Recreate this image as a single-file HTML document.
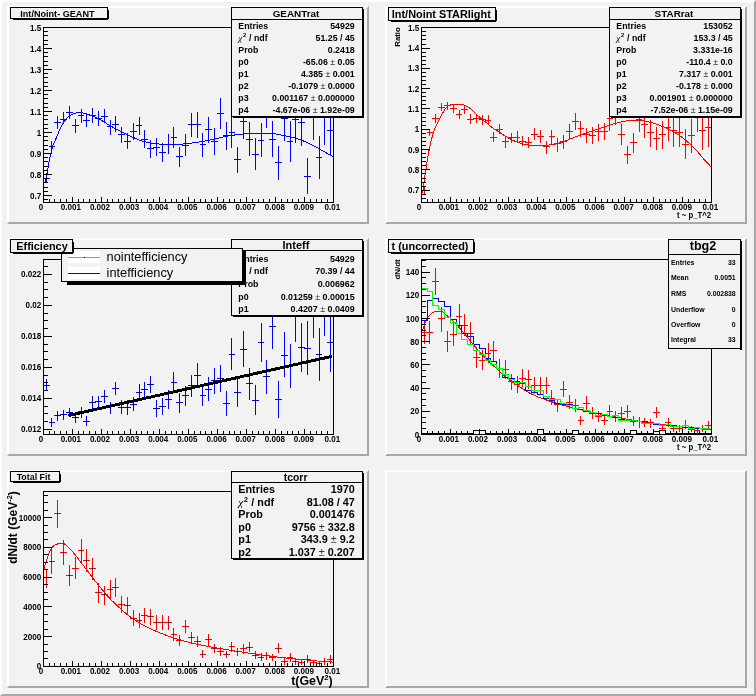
<!DOCTYPE html>
<html><head><meta charset="utf-8"><title>canvas</title>
<style>html,body{margin:0;padding:0;background:#f2f2f2;}svg{display:block;will-change:transform;font-family:"Liberation Sans",sans-serif;}</style>
</head><body>
<svg width="756" height="696" viewBox="0 0 756 696">
<rect x="0.00" y="0.00" width="756.00" height="696.00" fill="#f2f2f2" stroke="none" stroke-width="1" shape-rendering="crispEdges"/>
<polygon points="0,0 756,0 754,2 2,2 2,694 0,696" fill="#fff"/>
<polygon points="756,696 0,696 2,694 754,694 754,2 756,0" fill="#a8a8a8"/>
<rect x="7.00" y="6.00" width="362.00" height="218.00" fill="#f2f2f2" stroke="none" stroke-width="1" shape-rendering="crispEdges"/>
<polygon points="7,6 369,6 367,8 9,8 9,222 7,224" fill="#fff"/>
<polygon points="369,224 7,224 9,222 367,222 367,8 369,6" fill="#a8a8a8"/>
<rect x="385.00" y="6.00" width="362.00" height="218.00" fill="#f2f2f2" stroke="none" stroke-width="1" shape-rendering="crispEdges"/>
<polygon points="385,6 747,6 745,8 387,8 387,222 385,224" fill="#fff"/>
<polygon points="747,224 385,224 387,222 745,222 745,8 747,6" fill="#a8a8a8"/>
<rect x="7.00" y="238.00" width="362.00" height="218.00" fill="#f2f2f2" stroke="none" stroke-width="1" shape-rendering="crispEdges"/>
<polygon points="7,238 369,238 367,240 9,240 9,454 7,456" fill="#fff"/>
<polygon points="369,456 7,456 9,454 367,454 367,240 369,238" fill="#a8a8a8"/>
<rect x="385.00" y="238.00" width="362.00" height="218.00" fill="#f2f2f2" stroke="none" stroke-width="1" shape-rendering="crispEdges"/>
<polygon points="385,238 747,238 745,240 387,240 387,454 385,456" fill="#fff"/>
<polygon points="747,456 385,456 387,454 745,454 745,240 747,238" fill="#a8a8a8"/>
<rect x="7.00" y="470.00" width="362.00" height="218.00" fill="#f2f2f2" stroke="none" stroke-width="1" shape-rendering="crispEdges"/>
<polygon points="7,470 369,470 367,472 9,472 9,686 7,688" fill="#fff"/>
<polygon points="369,688 7,688 9,686 367,686 367,472 369,470" fill="#a8a8a8"/>
<rect x="385.00" y="470.00" width="362.00" height="218.00" fill="#f2f2f2" stroke="none" stroke-width="1" shape-rendering="crispEdges"/>
<polygon points="385,470 747,470 745,472 387,472 387,686 385,688" fill="#fff"/>
<polygon points="747,688 385,688 387,686 745,686 745,472 747,470" fill="#a8a8a8"/>
<g>
<path d="M46.5 173V183M43 178.5H50M51.5 141V152M49 146.5H55M57.5 116V129M54 122.5H61M63.5 112V124M60 119.5H67M69.5 106V119M66 112.5H73M75.5 119V133M72 125.5H79M81.5 109V123M78 115.5H84M86.5 114V127M83 120.5H90M92.5 108V123M89 115.5H96M98.5 111V126M95 118.5H102M104.5 109V123M101 116.5H108M110.5 120V135M107 126.5H113M115.5 116V132M112 124.5H119M121.5 127V143M118 134.5H125M127.5 133V149M124 141.5H131M133.5 123V140M130 131.5H137M139.5 117V135M136 125.5H142M144.5 130V148M141 139.5H148M150.5 140V158M147 148.5H154M156.5 138V156M153 147.5H160M162.5 143V162M159 152.5H166M168.5 134V154M165 144.5H172M173.5 127V148M171 137.5H177M179.5 147V167M176 156.5H183M185.5 134V156M182 145.5H189M191.5 113V137M188 124.5H195M197.5 112V138M194 124.5H201M202.5 133V157M200 144.5H206M208.5 117V143M205 129.5H212M214.5 128V155M211 141.5H218M220.5 98V129M217 113.5H224M226.5 122V150M223 135.5H230M231.5 117V148M229 132.5H235M237.5 147V173M234 159.5H241M243.5 104V139M240 121.5H247M249.5 122V156M246 139.5H253M255.5 138V170M252 154.5H259M261.5 123V157M258 140.5H264M266.5 90V128M263 109.5H270M272.5 121V157M269 139.5H276M278.5 146V180M275 162.5H282M284.5 96V141M281 118.5H288M290.5 121V162M287 141.5H293M295.5 96V143M292 119.5H299M301.5 99V146M298 122.5H305M307.5 158V194M304 176.5H311M313.5 85V140M310 112.5H317M319.5 136V179M316 157.5H322M324.5 85V145M321 115.5H328M330.5 106V156M327 130.5H334" stroke="#0000ff" stroke-width="1" fill="none" shape-rendering="crispEdges"/>
<polyline points="44.6,183.5 44.7,183.2 44.7,182.9 44.8,182.5 44.9,182.0 45.1,181.5 45.2,181.0 45.4,180.5 45.5,180.2 45.7,179.8 46.0,179.2 46.2,178.3 46.5,177.0 46.8,175.1 47.2,172.7 47.7,170.0 48.1,167.2 48.5,164.5 49.0,162.0 49.5,159.7 50.0,157.4 50.5,155.2 51.0,153.1 51.5,151.2 51.9,149.6 52.2,148.3 52.4,147.3 52.6,146.5 52.8,145.9 53.0,145.2 53.3,144.4 53.6,143.6 54.0,142.8 54.4,142.0 54.8,141.1 55.2,140.2 55.7,139.2 56.2,138.1 56.7,136.8 57.2,135.5 57.8,134.2 58.3,132.8 58.9,131.5 59.5,130.2 60.2,128.8 60.9,127.4 61.5,126.1 62.2,124.9 62.8,123.8 63.4,122.9 63.9,122.0 64.4,121.3 64.9,120.7 65.5,120.0 66.0,119.4 66.6,118.8 67.1,118.2 67.6,117.6 68.2,117.1 68.8,116.6 69.5,116.1 70.2,115.6 71.0,115.2 71.8,114.7 72.7,114.3 73.5,113.9 74.3,113.6 75.1,113.3 75.8,113.1 76.6,112.9 77.4,112.7 78.1,112.6 78.8,112.5 79.5,112.5 80.1,112.5 80.7,112.5 81.3,112.6 82.0,112.8 82.7,112.9 83.5,113.1 84.3,113.2 85.2,113.5 86.0,113.7 86.9,113.9 87.8,114.2 88.7,114.5 89.5,114.8 90.4,115.1 91.2,115.5 92.1,115.8 93.0,116.2 93.9,116.6 94.8,117.0 95.7,117.4 96.6,117.8 97.5,118.3 98.5,118.8 99.5,119.3 100.5,119.9 101.6,120.5 102.7,121.2 103.7,121.8 104.7,122.4 105.7,123.0 106.6,123.6 107.6,124.2 108.5,124.8 109.4,125.3 110.3,125.9 111.2,126.4 112.1,127.0 112.9,127.5 113.8,128.0 114.7,128.5 115.6,129.0 116.5,129.5 117.5,129.9 118.5,130.4 119.4,130.8 120.4,131.2 121.4,131.7 122.4,132.2 123.4,132.7 124.4,133.2 125.4,133.7 126.4,134.2 127.4,134.7 128.4,135.2 129.4,135.7 130.4,136.2 131.4,136.7 132.4,137.1 133.4,137.6 134.4,138.0 135.4,138.5 136.4,138.9 137.4,139.3 138.4,139.7 139.3,140.0 140.2,140.3 141.0,140.6 141.8,140.9 142.7,141.1 143.5,141.3 144.4,141.6 145.3,141.9 146.3,142.1 147.3,142.4 148.3,142.7 149.3,142.9 150.3,143.1 151.3,143.3 152.3,143.4 153.3,143.5 154.3,143.6 155.3,143.7 156.3,143.8 157.3,143.9 158.3,143.9 159.3,144.0 160.3,144.0 161.3,144.1 162.3,144.1 163.3,144.1 164.4,144.2 165.4,144.2 166.4,144.2 167.4,144.3 168.4,144.3 169.3,144.3 170.1,144.3 171.0,144.4 171.8,144.4 172.6,144.4 173.5,144.4 174.4,144.4 175.4,144.4 176.4,144.4 177.4,144.4 178.4,144.3 179.4,144.3 180.4,144.2 181.4,144.2 182.5,144.1 183.5,144.0 184.5,143.9 185.5,143.8 186.5,143.7 187.4,143.6 188.4,143.5 189.4,143.4 190.3,143.2 191.3,143.1 192.3,143.0 193.4,142.8 194.4,142.7 195.4,142.5 196.4,142.3 197.4,142.2 198.3,142.1 199.1,142.0 199.9,141.9 200.6,141.8 201.4,141.6 202.3,141.5 203.2,141.3 204.2,141.2 205.3,141.0 206.3,140.8 207.4,140.6 208.4,140.4 209.4,140.2 210.4,140.0 211.4,139.8 212.4,139.6 213.4,139.3 214.4,139.1 215.4,138.9 216.4,138.6 217.4,138.3 218.4,138.1 219.4,137.8 220.4,137.6 221.4,137.4 222.4,137.1 223.4,136.9 224.5,136.7 225.4,136.5 226.4,136.3 227.3,136.1 228.2,136.0 229.0,135.8 229.8,135.7 230.7,135.5 231.6,135.4 232.5,135.3 233.5,135.2 234.5,135.0 235.5,134.9 236.5,134.8 237.5,134.7 238.5,134.6 239.4,134.5 240.4,134.3 241.4,134.2 242.3,134.1 243.3,134.0 244.3,133.9 245.3,133.8 246.3,133.7 247.3,133.6 248.3,133.6 249.3,133.5 250.3,133.4 251.2,133.4 252.1,133.4 253.1,133.3 254.0,133.3 255.0,133.3 256.0,133.3 257.1,133.3 258.2,133.3 259.3,133.3 260.4,133.3 261.4,133.3 262.4,133.3 263.3,133.3 264.3,133.3 265.2,133.4 266.1,133.4 267.0,133.4 267.9,133.4 268.8,133.4 269.7,133.5 270.6,133.5 271.5,133.5 272.4,133.6 273.4,133.7 274.4,133.8 275.4,133.9 276.4,134.1 277.4,134.2 278.4,134.4 279.4,134.6 280.4,134.8 281.3,135.0 282.3,135.2 283.3,135.4 284.3,135.6 285.3,135.8 286.4,136.1 287.4,136.3 288.4,136.5 289.4,136.8 290.4,137.0 291.3,137.2 292.2,137.4 293.0,137.6 293.9,137.8 294.7,138.0 295.6,138.3 296.5,138.6 297.5,138.9 298.5,139.2 299.4,139.5 300.4,139.8 301.4,140.2 302.4,140.6 303.4,141.0 304.4,141.4 305.4,141.9 306.4,142.3 307.4,142.8 308.4,143.3 309.4,143.7 310.4,144.2 311.4,144.7 312.4,145.2 313.4,145.7 314.4,146.2 315.4,146.7 316.3,147.2 317.3,147.8 318.2,148.3 319.2,148.8 320.1,149.3 321.1,149.9 322.0,150.4 322.9,150.9 323.9,151.5 324.8,152.0 325.8,152.5 326.7,153.1 327.7,153.7 328.7,154.2 329.5,154.7 330.3,155.1 330.9,155.5 331.5,155.8 332.0,156.0 332.4,156.3 332.7,156.5 333.0,156.6" fill="none" stroke="#0000ff" stroke-width="1" stroke-linejoin="round" shape-rendering="crispEdges"/>
<rect x="43.50" y="27.50" width="290.00" height="175.00" fill="none" stroke="#000" stroke-width="1" shape-rendering="crispEdges"/>
<path d="M43.5 202.5V197M49.5 202.5V199M54.5 202.5V199M60.5 202.5V199M66.5 202.5V199M72.5 202.5V197M78.5 202.5V199M83.5 202.5V199M89.5 202.5V199M95.5 202.5V199M101.5 202.5V197M107.5 202.5V199M112.5 202.5V199M118.5 202.5V199M124.5 202.5V199M130.5 202.5V197M136.5 202.5V199M141.5 202.5V199M147.5 202.5V199M153.5 202.5V199M159.5 202.5V197M165.5 202.5V199M171.5 202.5V199M176.5 202.5V199M182.5 202.5V199M188.5 202.5V197M194.5 202.5V199M200.5 202.5V199M205.5 202.5V199M211.5 202.5V199M217.5 202.5V197M223.5 202.5V199M229.5 202.5V199M234.5 202.5V199M240.5 202.5V199M246.5 202.5V197M252.5 202.5V199M258.5 202.5V199M263.5 202.5V199M269.5 202.5V199M275.5 202.5V197M281.5 202.5V199M287.5 202.5V199M292.5 202.5V199M298.5 202.5V199M304.5 202.5V197M310.5 202.5V199M316.5 202.5V199M321.5 202.5V199M327.5 202.5V199M333.5 202.5V197" stroke="#000" stroke-width="1" fill="none" shape-rendering="crispEdges"/>
<text transform="translate(40.89,210.00) scale(0.94,1)" font-size="8.6" text-anchor="middle" font-weight="bold" fill="#000">0</text>
<text transform="translate(70.83,210.00) scale(0.94,1)" font-size="8.6" text-anchor="middle" font-weight="bold" fill="#000">0.001</text>
<text transform="translate(99.97,210.00) scale(0.94,1)" font-size="8.6" text-anchor="middle" font-weight="bold" fill="#000">0.002</text>
<text transform="translate(129.11,210.00) scale(0.94,1)" font-size="8.6" text-anchor="middle" font-weight="bold" fill="#000">0.003</text>
<text transform="translate(158.25,210.00) scale(0.94,1)" font-size="8.6" text-anchor="middle" font-weight="bold" fill="#000">0.004</text>
<text transform="translate(187.39,210.00) scale(0.94,1)" font-size="8.6" text-anchor="middle" font-weight="bold" fill="#000">0.005</text>
<text transform="translate(216.53,210.00) scale(0.94,1)" font-size="8.6" text-anchor="middle" font-weight="bold" fill="#000">0.006</text>
<text transform="translate(245.67,210.00) scale(0.94,1)" font-size="8.6" text-anchor="middle" font-weight="bold" fill="#000">0.007</text>
<text transform="translate(274.81,210.00) scale(0.94,1)" font-size="8.6" text-anchor="middle" font-weight="bold" fill="#000">0.008</text>
<text transform="translate(303.95,210.00) scale(0.94,1)" font-size="8.6" text-anchor="middle" font-weight="bold" fill="#000">0.009</text>
<text transform="translate(332.29,210.00) scale(0.94,1)" font-size="8.6" text-anchor="middle" font-weight="bold" fill="#000">0.01</text>
<path d="M43.5 27.5H51.5M43.5 48.5H51.5M43.5 69.5H51.5M43.5 90.5H51.5M43.5 111.5H51.5M43.5 132.5H51.5M43.5 153.5H51.5M43.5 174.5H51.5M43.5 195.5H51.5M43.5 199.5H47.5M43.5 191.5H47.5M43.5 187.5H47.5M43.5 182.5H47.5M43.5 178.5H47.5M43.5 170.5H47.5M43.5 166.5H47.5M43.5 161.5H47.5M43.5 157.5H47.5M43.5 149.5H47.5M43.5 145.5H47.5M43.5 140.5H47.5M43.5 136.5H47.5M43.5 128.5H47.5M43.5 124.5H47.5M43.5 119.5H47.5M43.5 115.5H47.5M43.5 107.5H47.5M43.5 103.5H47.5M43.5 98.5H47.5M43.5 94.5H47.5M43.5 86.5H47.5M43.5 82.5H47.5M43.5 77.5H47.5M43.5 73.5H47.5M43.5 65.5H47.5M43.5 61.5H47.5M43.5 56.5H47.5M43.5 52.5H47.5M43.5 44.5H47.5M43.5 40.5H47.5M43.5 35.5H47.5M43.5 31.5H47.5" stroke="#000" stroke-width="1" fill="none" shape-rendering="crispEdges"/>
<text transform="translate(41.20,30.50) scale(0.94,1)" font-size="8.6" text-anchor="end" font-weight="bold" fill="#000">1.5</text>
<text transform="translate(41.20,51.50) scale(0.94,1)" font-size="8.6" text-anchor="end" font-weight="bold" fill="#000">1.4</text>
<text transform="translate(41.20,72.50) scale(0.94,1)" font-size="8.6" text-anchor="end" font-weight="bold" fill="#000">1.3</text>
<text transform="translate(41.20,93.50) scale(0.94,1)" font-size="8.6" text-anchor="end" font-weight="bold" fill="#000">1.2</text>
<text transform="translate(41.20,114.50) scale(0.94,1)" font-size="8.6" text-anchor="end" font-weight="bold" fill="#000">1.1</text>
<text transform="translate(41.20,135.50) scale(0.94,1)" font-size="8.6" text-anchor="end" font-weight="bold" fill="#000">1</text>
<text transform="translate(41.20,156.50) scale(0.94,1)" font-size="8.6" text-anchor="end" font-weight="bold" fill="#000">0.9</text>
<text transform="translate(41.20,177.50) scale(0.94,1)" font-size="8.6" text-anchor="end" font-weight="bold" fill="#000">0.8</text>
<text transform="translate(41.20,198.50) scale(0.94,1)" font-size="8.6" text-anchor="end" font-weight="bold" fill="#000">0.7</text>
<rect x="13.00" y="18.00" width="95.00" height="1.50" fill="#000" stroke="none" stroke-width="1" shape-rendering="crispEdges"/>
<rect x="107.00" y="10.00" width="1.50" height="9.00" fill="#000" stroke="none" stroke-width="1" shape-rendering="crispEdges"/>
<rect x="10.50" y="7.50" width="97.00" height="11.00" fill="#f2f2f2" stroke="#000" stroke-width="1" shape-rendering="crispEdges"/>
<text x="57.40" y="16.90" font-size="9.1" text-anchor="middle" font-weight="bold" fill="#000">Int/Noint- GEANT</text>
<rect x="233.00" y="116.00" width="131.00" height="1.50" fill="#000" stroke="none" stroke-width="1" shape-rendering="crispEdges"/>
<rect x="362.00" y="9.00" width="1.50" height="109.00" fill="#000" stroke="none" stroke-width="1" shape-rendering="crispEdges"/>
<rect x="231.50" y="7.50" width="131.00" height="109.00" fill="#f2f2f2" stroke="#000" stroke-width="1" shape-rendering="crispEdges"/>
<path d="M231 19.5H362" stroke="#000" stroke-width="1" fill="none" shape-rendering="crispEdges"/>
<text x="296.00" y="16.70" font-size="9.9" text-anchor="middle" font-weight="bold" fill="#000">GEANTrat</text>
<text x="238.30" y="28.80" font-size="8.8" text-anchor="start" font-weight="bold" fill="#000">Entries</text>
<text x="354.70" y="28.80" font-size="8.8" text-anchor="end" font-weight="bold" fill="#000">54929</text>
<text x="238.30" y="40.70" font-size="8.8" text-anchor="start" font-weight="bold" fill="#000"><tspan font-family="Liberation Serif,serif" font-style="italic" font-weight="normal" font-size="105%">χ</tspan><tspan font-size="65%" dy="-3.4" dx="0.6">2</tspan><tspan dy="3.4" dx="0.5"> / ndf</tspan></text>
<text x="354.70" y="40.70" font-size="8.8" text-anchor="end" font-weight="bold" fill="#000">51.25 / 45</text>
<text x="238.30" y="52.60" font-size="8.8" text-anchor="start" font-weight="bold" fill="#000">Prob</text>
<text x="354.70" y="52.60" font-size="8.8" text-anchor="end" font-weight="bold" fill="#000">0.2418</text>
<text x="238.30" y="64.60" font-size="8.8" text-anchor="start" font-weight="bold" fill="#000">p0</text>
<text x="354.70" y="64.60" font-size="8.8" text-anchor="end" font-weight="bold" fill="#000">-65.06<tspan font-weight="normal" fill="#333"> ± </tspan>0.05</text>
<text x="238.30" y="76.70" font-size="8.8" text-anchor="start" font-weight="bold" fill="#000">p1</text>
<text x="354.70" y="76.70" font-size="8.8" text-anchor="end" font-weight="bold" fill="#000">4.385<tspan font-weight="normal" fill="#333"> ± </tspan>0.001</text>
<text x="238.30" y="88.70" font-size="8.8" text-anchor="start" font-weight="bold" fill="#000">p2</text>
<text x="354.70" y="88.70" font-size="8.8" text-anchor="end" font-weight="bold" fill="#000">-0.1079<tspan font-weight="normal" fill="#333"> ± </tspan>0.0000</text>
<text x="238.30" y="100.70" font-size="8.8" text-anchor="start" font-weight="bold" fill="#000">p3</text>
<text x="354.70" y="100.70" font-size="8.8" text-anchor="end" font-weight="bold" fill="#000">0.001167<tspan font-weight="normal" fill="#333"> ± </tspan>0.000000</text>
<text x="238.30" y="113.30" font-size="8.8" text-anchor="start" font-weight="bold" fill="#000">p4</text>
<text x="354.70" y="113.30" font-size="8.8" text-anchor="end" font-weight="bold" fill="#000">-4.67e-06<tspan font-weight="normal" fill="#333"> ± </tspan>1.92e-09</text>
</g>
<g>
<path d="M424.5 186V195M421 190.5H428M429.5 129V136M427 132.5H433M435.5 114V123M432 118.5H439M441.5 103V111M438 107.5H445M447.5 102V110M444 105.5H451M453.5 104V113M450 108.5H457M459.5 110V119M456 114.5H462M464.5 105V114M461 109.5H468M470.5 114V124M467 119.5H474M476.5 114V123M473 118.5H480M482.5 115V125M479 119.5H486M488.5 115V125M485 120.5H491M493.5 132V142M490 137.5H497M499.5 124V134M496 129.5H503M505.5 136V148M502 141.5H509M511.5 133V143M508 137.5H515M517.5 131V143M514 137.5H520M522.5 136V146M519 141.5H526M528.5 137V148M525 142.5H532M534.5 128V140M531 134.5H538M540.5 130V143M537 136.5H544M546.5 141V154M543 146.5H550M551.5 130V144M549 136.5H555M557.5 138V152M554 143.5H561M563.5 135V149M560 141.5H567M569.5 124V140M566 131.5H573M575.5 113V130M572 121.5H579M580.5 121V137M578 128.5H584M586.5 128V143M583 134.5H590M592.5 127V144M589 135.5H596M598.5 124V141M595 131.5H602M604.5 123V140M601 131.5H608M609.5 107V131M607 118.5H613M615.5 101V125M612 113.5H619M621.5 124V145M618 134.5H625M627.5 146V164M624 154.5H631M633.5 133V153M630 142.5H637M639.5 107V132M636 119.5H642M644.5 113V138M641 124.5H648M650.5 120V147M647 132.5H654M656.5 127V150M653 138.5H660M662.5 121V149M659 134.5H666M668.5 114V141M665 127.5H671M673.5 116V147M670 130.5H677M679.5 118V147M676 132.5H683M685.5 129V159M682 144.5H689M691.5 119V153M688 135.5H695M697.5 98V132M694 115.5H700M702.5 111V150M699 130.5H706M708.5 110V147M705 127.5H712" stroke="#ff0000" stroke-width="1" fill="none" shape-rendering="crispEdges"/>
<polyline points="422.7,192.9 422.9,191.6 423.1,189.8 423.4,187.6 423.6,185.2 424.0,182.7 424.3,180.3 424.7,177.9 425.0,175.3 425.4,172.6 425.8,169.9 426.3,167.2 426.7,164.5 427.1,161.8 427.6,159.1 428.0,156.4 428.5,153.7 428.9,151.1 429.4,148.7 429.9,146.5 430.3,144.4 430.8,142.4 431.2,140.5 431.7,138.6 432.2,136.8 432.7,135.0 433.2,133.3 433.8,131.6 434.3,130.1 434.9,128.6 435.4,127.2 435.9,125.9 436.5,124.8 437.1,123.7 437.6,122.7 438.1,121.8 438.5,121.0 438.8,120.4 439.1,119.9 439.3,119.5 439.5,119.2 439.7,118.8 440.0,118.3 440.3,117.7 440.6,117.1 441.0,116.4 441.3,115.7 441.7,115.0 442.0,114.4 442.3,113.8 442.7,113.2 443.0,112.6 443.3,112.0 443.6,111.5 444.0,110.9 444.4,110.3 444.7,109.8 445.1,109.2 445.5,108.7 445.9,108.2 446.3,107.7 446.7,107.3 447.0,106.9 447.4,106.6 447.8,106.3 448.1,106.1 448.5,105.8 448.9,105.6 449.2,105.3 449.5,105.2 449.9,105.0 450.2,104.8 450.6,104.7 451.0,104.6 451.3,104.5 451.7,104.4 452.1,104.4 452.5,104.3 453.0,104.3 453.6,104.3 454.2,104.2 454.9,104.2 455.6,104.2 456.3,104.2 457.0,104.2 457.7,104.2 458.5,104.2 459.3,104.2 460.1,104.3 460.9,104.4 461.7,104.5 462.5,104.7 463.3,104.9 464.1,105.1 464.9,105.4 465.7,105.7 466.5,106.1 467.3,106.6 468.2,107.1 469.1,107.7 469.9,108.4 470.8,109.1 471.7,109.8 472.6,110.6 473.5,111.4 474.4,112.3 475.3,113.2 476.2,114.0 477.0,114.8 477.7,115.5 478.4,116.1 479.0,116.6 479.7,117.2 480.4,117.8 481.2,118.5 482.1,119.3 483.2,120.1 484.2,121.0 485.4,121.9 486.5,122.8 487.5,123.6 488.5,124.4 489.5,125.3 490.4,126.1 491.4,126.9 492.3,127.7 493.3,128.4 494.3,129.1 495.3,129.7 496.3,130.4 497.4,131.0 498.4,131.6 499.4,132.2 500.4,132.9 501.4,133.5 502.4,134.2 503.5,134.9 504.5,135.6 505.5,136.2 506.5,136.8 507.6,137.4 508.6,138.0 509.7,138.6 510.7,139.2 511.7,139.7 512.7,140.2 513.7,140.6 514.7,141.1 515.7,141.5 516.7,141.8 517.6,142.2 518.4,142.5 519.2,142.8 520.0,143.1 520.7,143.3 521.5,143.6 522.4,143.8 523.3,144.0 524.3,144.3 525.4,144.5 526.4,144.7 527.5,144.8 528.5,145.0 529.5,145.1 530.5,145.2 531.5,145.3 532.5,145.4 533.5,145.4 534.5,145.5 535.5,145.5 536.5,145.6 537.6,145.6 538.6,145.6 539.6,145.6 540.6,145.6 541.6,145.6 542.5,145.5 543.5,145.5 544.4,145.4 545.4,145.4 546.3,145.3 547.2,145.2 548.1,145.1 549.0,145.1 549.9,144.9 550.8,144.8 551.7,144.7 552.6,144.6 553.6,144.4 554.6,144.2 555.5,144.1 556.5,143.8 557.5,143.6 558.5,143.3 559.5,143.0 560.5,142.7 561.6,142.3 562.6,142.0 563.6,141.6 564.6,141.2 565.6,140.9 566.6,140.5 567.6,140.1 568.6,139.7 569.6,139.3 570.6,138.9 571.6,138.5 572.6,138.1 573.6,137.7 574.6,137.3 575.5,136.9 576.4,136.5 577.2,136.2 578.0,135.9 578.8,135.6 579.6,135.2 580.5,134.9 581.5,134.6 582.5,134.2 583.5,133.9 584.5,133.6 585.6,133.2 586.6,132.9 587.6,132.6 588.6,132.2 589.6,131.9 590.6,131.6 591.6,131.2 592.6,130.9 593.6,130.6 594.5,130.2 595.4,129.9 596.4,129.6 597.3,129.2 598.3,128.9 599.3,128.6 600.3,128.3 601.3,127.9 602.3,127.6 603.3,127.3 604.3,127.0 605.2,126.7 606.1,126.4 606.9,126.1 607.8,125.8 608.6,125.5 609.5,125.2 610.4,124.9 611.4,124.6 612.3,124.3 613.3,124.0 614.3,123.7 615.3,123.4 616.3,123.1 617.4,122.9 618.4,122.6 619.5,122.4 620.6,122.1 621.6,121.9 622.6,121.7 623.6,121.5 624.5,121.3 625.5,121.1 626.4,120.9 627.4,120.8 628.4,120.7 629.4,120.6 630.4,120.5 631.3,120.5 632.3,120.4 633.3,120.4 634.3,120.4 635.2,120.3 636.1,120.3 637.1,120.3 638.0,120.4 639.0,120.4 640.0,120.5 641.0,120.6 641.9,120.7 642.9,120.8 643.9,120.9 644.9,121.1 645.9,121.3 646.8,121.4 647.8,121.6 648.7,121.8 649.7,122.1 650.6,122.3 651.5,122.6 652.5,122.8 653.4,123.1 654.4,123.4 655.3,123.8 656.3,124.1 657.3,124.5 658.3,124.8 659.2,125.2 660.2,125.6 661.2,126.0 662.2,126.4 663.2,126.8 664.1,127.2 665.1,127.6 666.1,128.0 667.0,128.5 668.0,128.9 669.0,129.4 669.9,129.8 670.9,130.3 671.9,130.8 672.8,131.4 673.8,131.9 674.8,132.5 675.7,133.1 676.7,133.7 677.7,134.3 678.6,134.9 679.6,135.6 680.6,136.3 681.5,137.0 682.5,137.8 683.5,138.5 684.4,139.3 685.4,140.1 686.4,140.9 687.3,141.8 688.3,142.6 689.3,143.5 690.2,144.4 691.2,145.3 692.2,146.2 693.2,147.2 694.2,148.2 695.1,149.2 696.1,150.3 697.1,151.3 698.1,152.4 699.0,153.5 700.0,154.6 700.9,155.8 701.9,156.9 702.8,158.0 703.8,159.1 704.8,160.2 705.9,161.3 706.9,162.4 707.7,163.3 708.5,164.1 709.1,164.8 709.6,165.3 710.0,165.7 710.3,166.1 710.6,166.4 710.8,166.6" fill="none" stroke="#ff0000" stroke-width="1" stroke-linejoin="round" shape-rendering="crispEdges"/>
<rect x="421.50" y="27.50" width="290.00" height="175.00" fill="none" stroke="#000" stroke-width="1" shape-rendering="crispEdges"/>
<path d="M421.5 202.5V197M427.5 202.5V199M432.5 202.5V199M438.5 202.5V199M444.5 202.5V199M450.5 202.5V197M456.5 202.5V199M461.5 202.5V199M467.5 202.5V199M473.5 202.5V199M479.5 202.5V197M485.5 202.5V199M490.5 202.5V199M496.5 202.5V199M502.5 202.5V199M508.5 202.5V197M514.5 202.5V199M519.5 202.5V199M525.5 202.5V199M531.5 202.5V199M537.5 202.5V197M543.5 202.5V199M549.5 202.5V199M554.5 202.5V199M560.5 202.5V199M566.5 202.5V197M572.5 202.5V199M578.5 202.5V199M583.5 202.5V199M589.5 202.5V199M595.5 202.5V197M601.5 202.5V199M607.5 202.5V199M612.5 202.5V199M618.5 202.5V199M624.5 202.5V197M630.5 202.5V199M636.5 202.5V199M641.5 202.5V199M647.5 202.5V199M653.5 202.5V197M659.5 202.5V199M665.5 202.5V199M670.5 202.5V199M676.5 202.5V199M682.5 202.5V197M688.5 202.5V199M694.5 202.5V199M699.5 202.5V199M705.5 202.5V199M711.5 202.5V197" stroke="#000" stroke-width="1" fill="none" shape-rendering="crispEdges"/>
<text transform="translate(418.89,210.00) scale(0.94,1)" font-size="8.6" text-anchor="middle" font-weight="bold" fill="#000">0</text>
<text transform="translate(448.83,210.00) scale(0.94,1)" font-size="8.6" text-anchor="middle" font-weight="bold" fill="#000">0.001</text>
<text transform="translate(477.97,210.00) scale(0.94,1)" font-size="8.6" text-anchor="middle" font-weight="bold" fill="#000">0.002</text>
<text transform="translate(507.11,210.00) scale(0.94,1)" font-size="8.6" text-anchor="middle" font-weight="bold" fill="#000">0.003</text>
<text transform="translate(536.25,210.00) scale(0.94,1)" font-size="8.6" text-anchor="middle" font-weight="bold" fill="#000">0.004</text>
<text transform="translate(565.39,210.00) scale(0.94,1)" font-size="8.6" text-anchor="middle" font-weight="bold" fill="#000">0.005</text>
<text transform="translate(594.53,210.00) scale(0.94,1)" font-size="8.6" text-anchor="middle" font-weight="bold" fill="#000">0.006</text>
<text transform="translate(623.67,210.00) scale(0.94,1)" font-size="8.6" text-anchor="middle" font-weight="bold" fill="#000">0.007</text>
<text transform="translate(652.81,210.00) scale(0.94,1)" font-size="8.6" text-anchor="middle" font-weight="bold" fill="#000">0.008</text>
<text transform="translate(681.95,210.00) scale(0.94,1)" font-size="8.6" text-anchor="middle" font-weight="bold" fill="#000">0.009</text>
<text transform="translate(710.29,210.00) scale(0.94,1)" font-size="8.6" text-anchor="middle" font-weight="bold" fill="#000">0.01</text>
<path d="M421.5 27.5H429.5M421.5 48.5H429.5M421.5 68.5H429.5M421.5 88.5H429.5M421.5 108.5H429.5M421.5 129.5H429.5M421.5 149.5H429.5M421.5 169.5H429.5M421.5 190.5H429.5M421.5 202.5H425.5M421.5 198.5H425.5M421.5 194.5H425.5M421.5 186.5H425.5M421.5 182.5H425.5M421.5 178.5H425.5M421.5 173.5H425.5M421.5 165.5H425.5M421.5 161.5H425.5M421.5 157.5H425.5M421.5 153.5H425.5M421.5 145.5H425.5M421.5 141.5H425.5M421.5 137.5H425.5M421.5 133.5H425.5M421.5 125.5H425.5M421.5 121.5H425.5M421.5 117.5H425.5M421.5 113.5H425.5M421.5 104.5H425.5M421.5 100.5H425.5M421.5 96.5H425.5M421.5 92.5H425.5M421.5 84.5H425.5M421.5 80.5H425.5M421.5 76.5H425.5M421.5 72.5H425.5M421.5 64.5H425.5M421.5 60.5H425.5M421.5 56.5H425.5M421.5 52.5H425.5M421.5 44.5H425.5M421.5 39.5H425.5M421.5 35.5H425.5M421.5 31.5H425.5" stroke="#000" stroke-width="1" fill="none" shape-rendering="crispEdges"/>
<text transform="translate(419.20,30.80) scale(0.94,1)" font-size="8.6" text-anchor="end" font-weight="bold" fill="#000">1.5</text>
<text transform="translate(419.20,51.10) scale(0.94,1)" font-size="8.6" text-anchor="end" font-weight="bold" fill="#000">1.4</text>
<text transform="translate(419.20,71.40) scale(0.94,1)" font-size="8.6" text-anchor="end" font-weight="bold" fill="#000">1.3</text>
<text transform="translate(419.20,91.70) scale(0.94,1)" font-size="8.6" text-anchor="end" font-weight="bold" fill="#000">1.2</text>
<text transform="translate(419.20,112.00) scale(0.94,1)" font-size="8.6" text-anchor="end" font-weight="bold" fill="#000">1.1</text>
<text transform="translate(419.20,132.30) scale(0.94,1)" font-size="8.6" text-anchor="end" font-weight="bold" fill="#000">1</text>
<text transform="translate(419.20,152.60) scale(0.94,1)" font-size="8.6" text-anchor="end" font-weight="bold" fill="#000">0.9</text>
<text transform="translate(419.20,172.90) scale(0.94,1)" font-size="8.6" text-anchor="end" font-weight="bold" fill="#000">0.8</text>
<text transform="translate(419.20,193.20) scale(0.94,1)" font-size="8.6" text-anchor="end" font-weight="bold" fill="#000">0.7</text>
<rect x="391.00" y="20.00" width="105.00" height="1.50" fill="#000" stroke="none" stroke-width="1" shape-rendering="crispEdges"/>
<rect x="495.00" y="10.00" width="1.50" height="11.00" fill="#000" stroke="none" stroke-width="1" shape-rendering="crispEdges"/>
<rect x="388.50" y="7.50" width="107.00" height="13.00" fill="#f2f2f2" stroke="#000" stroke-width="1" shape-rendering="crispEdges"/>
<text x="441.30" y="17.80" font-size="10.9" text-anchor="middle" font-weight="bold" fill="#000">Int/Noint STARlight</text>
<text x="0.00" y="0.00" font-size="7.8" text-anchor="end" font-weight="bold" fill="#000" transform="translate(399.7,27.2) rotate(-90)">Ratio</text>
<text transform="translate(711.20,218.20) scale(0.93,1)" font-size="8.4" text-anchor="end" font-weight="bold" fill="#000">t ~ p_T^2</text>
<rect x="611.00" y="116.00" width="131.00" height="1.50" fill="#000" stroke="none" stroke-width="1" shape-rendering="crispEdges"/>
<rect x="740.00" y="9.00" width="1.50" height="109.00" fill="#000" stroke="none" stroke-width="1" shape-rendering="crispEdges"/>
<rect x="609.50" y="7.50" width="131.00" height="109.00" fill="#f2f2f2" stroke="#000" stroke-width="1" shape-rendering="crispEdges"/>
<path d="M609 19.5H740" stroke="#000" stroke-width="1" fill="none" shape-rendering="crispEdges"/>
<text x="674.00" y="16.70" font-size="9.9" text-anchor="middle" font-weight="bold" fill="#000">STARrat</text>
<text x="616.30" y="28.80" font-size="8.8" text-anchor="start" font-weight="bold" fill="#000">Entries</text>
<text x="732.70" y="28.80" font-size="8.8" text-anchor="end" font-weight="bold" fill="#000">153052</text>
<text x="616.30" y="40.70" font-size="8.8" text-anchor="start" font-weight="bold" fill="#000"><tspan font-family="Liberation Serif,serif" font-style="italic" font-weight="normal" font-size="105%">χ</tspan><tspan font-size="65%" dy="-3.4" dx="0.6">2</tspan><tspan dy="3.4" dx="0.5"> / ndf</tspan></text>
<text x="732.70" y="40.70" font-size="8.8" text-anchor="end" font-weight="bold" fill="#000">153.3 / 45</text>
<text x="616.30" y="52.60" font-size="8.8" text-anchor="start" font-weight="bold" fill="#000">Prob</text>
<text x="732.70" y="52.60" font-size="8.8" text-anchor="end" font-weight="bold" fill="#000">3.331e-16</text>
<text x="616.30" y="64.60" font-size="8.8" text-anchor="start" font-weight="bold" fill="#000">p0</text>
<text x="732.70" y="64.60" font-size="8.8" text-anchor="end" font-weight="bold" fill="#000">-110.4<tspan font-weight="normal" fill="#333"> ± </tspan>0.0</text>
<text x="616.30" y="76.70" font-size="8.8" text-anchor="start" font-weight="bold" fill="#000">p1</text>
<text x="732.70" y="76.70" font-size="8.8" text-anchor="end" font-weight="bold" fill="#000">7.317<tspan font-weight="normal" fill="#333"> ± </tspan>0.001</text>
<text x="616.30" y="88.70" font-size="8.8" text-anchor="start" font-weight="bold" fill="#000">p2</text>
<text x="732.70" y="88.70" font-size="8.8" text-anchor="end" font-weight="bold" fill="#000">-0.178<tspan font-weight="normal" fill="#333"> ± </tspan>0.000</text>
<text x="616.30" y="100.70" font-size="8.8" text-anchor="start" font-weight="bold" fill="#000">p3</text>
<text x="732.70" y="100.70" font-size="8.8" text-anchor="end" font-weight="bold" fill="#000">0.001901<tspan font-weight="normal" fill="#333"> ± </tspan>0.000000</text>
<text x="616.30" y="113.30" font-size="8.8" text-anchor="start" font-weight="bold" fill="#000">p4</text>
<text x="732.70" y="113.30" font-size="8.8" text-anchor="end" font-weight="bold" fill="#000">-7.52e-06<tspan font-weight="normal" fill="#333"> ± </tspan>1.15e-09</text>
</g>
<g>
<path d="M46.5 379V391M43 385.5H50" stroke="#0000ff" stroke-width="1" fill="none" shape-rendering="crispEdges"/>
<rect x="46.00" y="385.00" width="1.00" height="1.00" fill="#000" stroke="none" stroke-width="1" shape-rendering="crispEdges"/>
<path d="M51.5 418V427M49 422.5H55" stroke="#0000ff" stroke-width="1" fill="none" shape-rendering="crispEdges"/>
<rect x="51.00" y="422.00" width="1.00" height="1.00" fill="#000" stroke="none" stroke-width="1" shape-rendering="crispEdges"/>
<path d="M57.5 411V421M54 415.5H61" stroke="#0000ff" stroke-width="1" fill="none" shape-rendering="crispEdges"/>
<rect x="57.00" y="415.00" width="1.00" height="1.00" fill="#000" stroke="none" stroke-width="1" shape-rendering="crispEdges"/>
<path d="M63.5 410V420M60 414.5H67" stroke="#0000ff" stroke-width="1" fill="none" shape-rendering="crispEdges"/>
<rect x="63.00" y="414.00" width="1.00" height="1.00" fill="#000" stroke="none" stroke-width="1" shape-rendering="crispEdges"/>
<path d="M69.5 408V417M66 412.5H73" stroke="#0000ff" stroke-width="1" fill="none" shape-rendering="crispEdges"/>
<rect x="69.00" y="412.00" width="1.00" height="1.00" fill="#000" stroke="none" stroke-width="1" shape-rendering="crispEdges"/>
<path d="M75.5 412V423M72 417.5H79" stroke="#0000ff" stroke-width="1" fill="none" shape-rendering="crispEdges"/>
<rect x="75.00" y="417.00" width="1.00" height="1.00" fill="#000" stroke="none" stroke-width="1" shape-rendering="crispEdges"/>
<path d="M81.5 407V418M78 411.5H84" stroke="#0000ff" stroke-width="1" fill="none" shape-rendering="crispEdges"/>
<rect x="81.00" y="411.00" width="1.00" height="1.00" fill="#000" stroke="none" stroke-width="1" shape-rendering="crispEdges"/>
<path d="M86.5 416V426M83 421.5H90" stroke="#0000ff" stroke-width="1" fill="none" shape-rendering="crispEdges"/>
<rect x="86.00" y="421.00" width="1.00" height="1.00" fill="#000" stroke="none" stroke-width="1" shape-rendering="crispEdges"/>
<path d="M92.5 396V409M89 402.5H96" stroke="#0000ff" stroke-width="1" fill="none" shape-rendering="crispEdges"/>
<rect x="92.00" y="402.00" width="1.00" height="1.00" fill="#000" stroke="none" stroke-width="1" shape-rendering="crispEdges"/>
<path d="M98.5 396V407M95 401.5H102" stroke="#0000ff" stroke-width="1" fill="none" shape-rendering="crispEdges"/>
<rect x="98.00" y="401.00" width="1.00" height="1.00" fill="#000" stroke="none" stroke-width="1" shape-rendering="crispEdges"/>
<path d="M104.5 390V403M101 396.5H108" stroke="#0000ff" stroke-width="1" fill="none" shape-rendering="crispEdges"/>
<rect x="104.00" y="396.00" width="1.00" height="1.00" fill="#000" stroke="none" stroke-width="1" shape-rendering="crispEdges"/>
<path d="M110.5 402V414M107 406.5H113" stroke="#0000ff" stroke-width="1" fill="none" shape-rendering="crispEdges"/>
<rect x="110.00" y="406.00" width="1.00" height="1.00" fill="#000" stroke="none" stroke-width="1" shape-rendering="crispEdges"/>
<path d="M115.5 382V395M112 388.5H119" stroke="#0000ff" stroke-width="1" fill="none" shape-rendering="crispEdges"/>
<rect x="115.00" y="388.00" width="1.00" height="1.00" fill="#000" stroke="none" stroke-width="1" shape-rendering="crispEdges"/>
<path d="M121.5 400V414M118 407.5H125" stroke="#0000ff" stroke-width="1" fill="none" shape-rendering="crispEdges"/>
<rect x="121.00" y="407.00" width="1.00" height="1.00" fill="#000" stroke="none" stroke-width="1" shape-rendering="crispEdges"/>
<path d="M127.5 400V415M124 407.5H131" stroke="#0000ff" stroke-width="1" fill="none" shape-rendering="crispEdges"/>
<rect x="127.00" y="407.00" width="1.00" height="1.00" fill="#000" stroke="none" stroke-width="1" shape-rendering="crispEdges"/>
<path d="M133.5 397V411M130 404.5H137" stroke="#0000ff" stroke-width="1" fill="none" shape-rendering="crispEdges"/>
<rect x="133.00" y="404.00" width="1.00" height="1.00" fill="#000" stroke="none" stroke-width="1" shape-rendering="crispEdges"/>
<path d="M139.5 384V399M136 392.5H142" stroke="#0000ff" stroke-width="1" fill="none" shape-rendering="crispEdges"/>
<rect x="139.00" y="392.00" width="1.00" height="1.00" fill="#000" stroke="none" stroke-width="1" shape-rendering="crispEdges"/>
<path d="M144.5 382V397M141 389.5H148" stroke="#0000ff" stroke-width="1" fill="none" shape-rendering="crispEdges"/>
<rect x="144.00" y="389.00" width="1.00" height="1.00" fill="#000" stroke="none" stroke-width="1" shape-rendering="crispEdges"/>
<path d="M150.5 376V393M147 384.5H154" stroke="#0000ff" stroke-width="1" fill="none" shape-rendering="crispEdges"/>
<rect x="150.00" y="384.00" width="1.00" height="1.00" fill="#000" stroke="none" stroke-width="1" shape-rendering="crispEdges"/>
<path d="M156.5 400V417M153 408.5H160" stroke="#0000ff" stroke-width="1" fill="none" shape-rendering="crispEdges"/>
<rect x="156.00" y="408.00" width="1.00" height="1.00" fill="#000" stroke="none" stroke-width="1" shape-rendering="crispEdges"/>
<path d="M162.5 398V415M159 406.5H166" stroke="#0000ff" stroke-width="1" fill="none" shape-rendering="crispEdges"/>
<rect x="162.00" y="406.00" width="1.00" height="1.00" fill="#000" stroke="none" stroke-width="1" shape-rendering="crispEdges"/>
<path d="M168.5 390V409M165 399.5H172" stroke="#0000ff" stroke-width="1" fill="none" shape-rendering="crispEdges"/>
<rect x="168.00" y="399.00" width="1.00" height="1.00" fill="#000" stroke="none" stroke-width="1" shape-rendering="crispEdges"/>
<path d="M173.5 372V391M171 382.5H177" stroke="#0000ff" stroke-width="1" fill="none" shape-rendering="crispEdges"/>
<rect x="173.00" y="382.00" width="1.00" height="1.00" fill="#000" stroke="none" stroke-width="1" shape-rendering="crispEdges"/>
<path d="M179.5 393V413M176 402.5H183" stroke="#0000ff" stroke-width="1" fill="none" shape-rendering="crispEdges"/>
<rect x="179.00" y="402.00" width="1.00" height="1.00" fill="#000" stroke="none" stroke-width="1" shape-rendering="crispEdges"/>
<path d="M185.5 386V406M182 395.5H189" stroke="#0000ff" stroke-width="1" fill="none" shape-rendering="crispEdges"/>
<rect x="185.00" y="395.00" width="1.00" height="1.00" fill="#000" stroke="none" stroke-width="1" shape-rendering="crispEdges"/>
<path d="M191.5 375V397M188 385.5H195" stroke="#0000ff" stroke-width="1" fill="none" shape-rendering="crispEdges"/>
<rect x="191.00" y="385.00" width="1.00" height="1.00" fill="#000" stroke="none" stroke-width="1" shape-rendering="crispEdges"/>
<path d="M197.5 363V385M194 375.5H201" stroke="#0000ff" stroke-width="1" fill="none" shape-rendering="crispEdges"/>
<rect x="197.00" y="375.00" width="1.00" height="1.00" fill="#000" stroke="none" stroke-width="1" shape-rendering="crispEdges"/>
<path d="M202.5 384V406M200 395.5H206" stroke="#0000ff" stroke-width="1" fill="none" shape-rendering="crispEdges"/>
<rect x="202.00" y="395.00" width="1.00" height="1.00" fill="#000" stroke="none" stroke-width="1" shape-rendering="crispEdges"/>
<path d="M208.5 377V401M205 389.5H212" stroke="#0000ff" stroke-width="1" fill="none" shape-rendering="crispEdges"/>
<rect x="208.00" y="389.00" width="1.00" height="1.00" fill="#000" stroke="none" stroke-width="1" shape-rendering="crispEdges"/>
<path d="M214.5 368V394M211 380.5H218" stroke="#0000ff" stroke-width="1" fill="none" shape-rendering="crispEdges"/>
<rect x="214.00" y="380.00" width="1.00" height="1.00" fill="#000" stroke="none" stroke-width="1" shape-rendering="crispEdges"/>
<path d="M220.5 365V392M217 378.5H224" stroke="#0000ff" stroke-width="1" fill="none" shape-rendering="crispEdges"/>
<rect x="220.00" y="378.00" width="1.00" height="1.00" fill="#000" stroke="none" stroke-width="1" shape-rendering="crispEdges"/>
<path d="M226.5 391V416M223 403.5H230" stroke="#0000ff" stroke-width="1" fill="none" shape-rendering="crispEdges"/>
<rect x="226.00" y="403.00" width="1.00" height="1.00" fill="#000" stroke="none" stroke-width="1" shape-rendering="crispEdges"/>
<path d="M231.5 338V370M229 354.5H235" stroke="#0000ff" stroke-width="1" fill="none" shape-rendering="crispEdges"/>
<rect x="231.00" y="354.00" width="1.00" height="1.00" fill="#000" stroke="none" stroke-width="1" shape-rendering="crispEdges"/>
<path d="M237.5 378V407M234 392.5H241" stroke="#0000ff" stroke-width="1" fill="none" shape-rendering="crispEdges"/>
<rect x="237.00" y="392.00" width="1.00" height="1.00" fill="#000" stroke="none" stroke-width="1" shape-rendering="crispEdges"/>
<path d="M243.5 331V367M240 349.5H247" stroke="#0000ff" stroke-width="1" fill="none" shape-rendering="crispEdges"/>
<rect x="243.00" y="349.00" width="1.00" height="1.00" fill="#000" stroke="none" stroke-width="1" shape-rendering="crispEdges"/>
<path d="M249.5 368V400M246 383.5H253" stroke="#0000ff" stroke-width="1" fill="none" shape-rendering="crispEdges"/>
<rect x="249.00" y="383.00" width="1.00" height="1.00" fill="#000" stroke="none" stroke-width="1" shape-rendering="crispEdges"/>
<path d="M255.5 385V415M252 400.5H259" stroke="#0000ff" stroke-width="1" fill="none" shape-rendering="crispEdges"/>
<rect x="255.00" y="400.00" width="1.00" height="1.00" fill="#000" stroke="none" stroke-width="1" shape-rendering="crispEdges"/>
<path d="M261.5 323V362M258 342.5H264" stroke="#0000ff" stroke-width="1" fill="none" shape-rendering="crispEdges"/>
<rect x="261.00" y="342.00" width="1.00" height="1.00" fill="#000" stroke="none" stroke-width="1" shape-rendering="crispEdges"/>
<path d="M266.5 360V394M263 376.5H270" stroke="#0000ff" stroke-width="1" fill="none" shape-rendering="crispEdges"/>
<rect x="266.00" y="376.00" width="1.00" height="1.00" fill="#000" stroke="none" stroke-width="1" shape-rendering="crispEdges"/>
<path d="M272.5 304V349M269 326.5H276" stroke="#0000ff" stroke-width="1" fill="none" shape-rendering="crispEdges"/>
<rect x="272.00" y="326.00" width="1.00" height="1.00" fill="#000" stroke="none" stroke-width="1" shape-rendering="crispEdges"/>
<path d="M278.5 381V418M275 399.5H282" stroke="#0000ff" stroke-width="1" fill="none" shape-rendering="crispEdges"/>
<rect x="278.00" y="399.00" width="1.00" height="1.00" fill="#000" stroke="none" stroke-width="1" shape-rendering="crispEdges"/>
<path d="M284.5 332V377M281 355.5H288" stroke="#0000ff" stroke-width="1" fill="none" shape-rendering="crispEdges"/>
<rect x="284.00" y="355.00" width="1.00" height="1.00" fill="#000" stroke="none" stroke-width="1" shape-rendering="crispEdges"/>
<path d="M290.5 344V388M287 365.5H293" stroke="#0000ff" stroke-width="1" fill="none" shape-rendering="crispEdges"/>
<rect x="290.00" y="365.00" width="1.00" height="1.00" fill="#000" stroke="none" stroke-width="1" shape-rendering="crispEdges"/>
<path d="M295.5 284V342M292 311.5H299" stroke="#0000ff" stroke-width="1" fill="none" shape-rendering="crispEdges"/>
<rect x="295.00" y="311.00" width="1.00" height="1.00" fill="#000" stroke="none" stroke-width="1" shape-rendering="crispEdges"/>
<path d="M301.5 323V372M298 347.5H305" stroke="#0000ff" stroke-width="1" fill="none" shape-rendering="crispEdges"/>
<rect x="301.00" y="347.00" width="1.00" height="1.00" fill="#000" stroke="none" stroke-width="1" shape-rendering="crispEdges"/>
<path d="M307.5 321V375M304 348.5H311" stroke="#0000ff" stroke-width="1" fill="none" shape-rendering="crispEdges"/>
<rect x="307.00" y="348.00" width="1.00" height="1.00" fill="#000" stroke="none" stroke-width="1" shape-rendering="crispEdges"/>
<path d="M313.5 282V338M310 310.5H317" stroke="#0000ff" stroke-width="1" fill="none" shape-rendering="crispEdges"/>
<rect x="313.00" y="310.00" width="1.00" height="1.00" fill="#000" stroke="none" stroke-width="1" shape-rendering="crispEdges"/>
<path d="M319.5 328V381M316 354.5H322" stroke="#0000ff" stroke-width="1" fill="none" shape-rendering="crispEdges"/>
<rect x="319.00" y="354.00" width="1.00" height="1.00" fill="#000" stroke="none" stroke-width="1" shape-rendering="crispEdges"/>
<path d="M324.5 278V336M321 307.5H328" stroke="#0000ff" stroke-width="1" fill="none" shape-rendering="crispEdges"/>
<rect x="324.00" y="307.00" width="1.00" height="1.00" fill="#000" stroke="none" stroke-width="1" shape-rendering="crispEdges"/>
<path d="M330.5 313V372M327 342.5H334" stroke="#0000ff" stroke-width="1" fill="none" shape-rendering="crispEdges"/>
<rect x="330.00" y="342.00" width="1.00" height="1.00" fill="#000" stroke="none" stroke-width="1" shape-rendering="crispEdges"/>
<line x1="68.4" y1="415.5" x2="332.1" y2="356.3" stroke="#000" stroke-width="3" shape-rendering="crispEdges"/>
<rect x="43.50" y="259.50" width="290.00" height="175.00" fill="none" stroke="#000" stroke-width="1" shape-rendering="crispEdges"/>
<path d="M43.5 434.5V429M49.5 434.5V431M54.5 434.5V431M60.5 434.5V431M66.5 434.5V431M72.5 434.5V429M78.5 434.5V431M83.5 434.5V431M89.5 434.5V431M95.5 434.5V431M101.5 434.5V429M107.5 434.5V431M112.5 434.5V431M118.5 434.5V431M124.5 434.5V431M130.5 434.5V429M136.5 434.5V431M141.5 434.5V431M147.5 434.5V431M153.5 434.5V431M159.5 434.5V429M165.5 434.5V431M171.5 434.5V431M176.5 434.5V431M182.5 434.5V431M188.5 434.5V429M194.5 434.5V431M200.5 434.5V431M205.5 434.5V431M211.5 434.5V431M217.5 434.5V429M223.5 434.5V431M229.5 434.5V431M234.5 434.5V431M240.5 434.5V431M246.5 434.5V429M252.5 434.5V431M258.5 434.5V431M263.5 434.5V431M269.5 434.5V431M275.5 434.5V429M281.5 434.5V431M287.5 434.5V431M292.5 434.5V431M298.5 434.5V431M304.5 434.5V429M310.5 434.5V431M316.5 434.5V431M321.5 434.5V431M327.5 434.5V431M333.5 434.5V429" stroke="#000" stroke-width="1" fill="none" shape-rendering="crispEdges"/>
<text transform="translate(40.89,442.00) scale(0.94,1)" font-size="8.6" text-anchor="middle" font-weight="bold" fill="#000">0</text>
<text transform="translate(70.83,442.00) scale(0.94,1)" font-size="8.6" text-anchor="middle" font-weight="bold" fill="#000">0.001</text>
<text transform="translate(99.97,442.00) scale(0.94,1)" font-size="8.6" text-anchor="middle" font-weight="bold" fill="#000">0.002</text>
<text transform="translate(129.11,442.00) scale(0.94,1)" font-size="8.6" text-anchor="middle" font-weight="bold" fill="#000">0.003</text>
<text transform="translate(158.25,442.00) scale(0.94,1)" font-size="8.6" text-anchor="middle" font-weight="bold" fill="#000">0.004</text>
<text transform="translate(187.39,442.00) scale(0.94,1)" font-size="8.6" text-anchor="middle" font-weight="bold" fill="#000">0.005</text>
<text transform="translate(216.53,442.00) scale(0.94,1)" font-size="8.6" text-anchor="middle" font-weight="bold" fill="#000">0.006</text>
<text transform="translate(245.67,442.00) scale(0.94,1)" font-size="8.6" text-anchor="middle" font-weight="bold" fill="#000">0.007</text>
<text transform="translate(274.81,442.00) scale(0.94,1)" font-size="8.6" text-anchor="middle" font-weight="bold" fill="#000">0.008</text>
<text transform="translate(303.95,442.00) scale(0.94,1)" font-size="8.6" text-anchor="middle" font-weight="bold" fill="#000">0.009</text>
<text transform="translate(332.29,442.00) scale(0.94,1)" font-size="8.6" text-anchor="middle" font-weight="bold" fill="#000">0.01</text>
<path d="M43.5 429.5H51.5M43.5 398.5H51.5M43.5 367.5H51.5M43.5 336.5H51.5M43.5 305.5H51.5M43.5 274.5H51.5M43.5 421.5H47.5M43.5 413.5H47.5M43.5 406.5H47.5M43.5 390.5H47.5M43.5 382.5H47.5M43.5 375.5H47.5M43.5 359.5H47.5M43.5 351.5H47.5M43.5 344.5H47.5M43.5 328.5H47.5M43.5 320.5H47.5M43.5 313.5H47.5M43.5 297.5H47.5M43.5 289.5H47.5M43.5 282.5H47.5M43.5 266.5H47.5" stroke="#000" stroke-width="1" fill="none" shape-rendering="crispEdges"/>
<text transform="translate(41.20,432.40) scale(0.94,1)" font-size="8.6" text-anchor="end" font-weight="bold" fill="#000">0.012</text>
<text transform="translate(41.20,401.40) scale(0.94,1)" font-size="8.6" text-anchor="end" font-weight="bold" fill="#000">0.014</text>
<text transform="translate(41.20,370.40) scale(0.94,1)" font-size="8.6" text-anchor="end" font-weight="bold" fill="#000">0.016</text>
<text transform="translate(41.20,339.40) scale(0.94,1)" font-size="8.6" text-anchor="end" font-weight="bold" fill="#000">0.018</text>
<text transform="translate(41.20,308.40) scale(0.94,1)" font-size="8.6" text-anchor="end" font-weight="bold" fill="#000">0.02</text>
<text transform="translate(41.20,277.40) scale(0.94,1)" font-size="8.6" text-anchor="end" font-weight="bold" fill="#000">0.022</text>
<rect x="233.00" y="315.00" width="131.00" height="1.50" fill="#000" stroke="none" stroke-width="1" shape-rendering="crispEdges"/>
<rect x="362.00" y="241.00" width="1.50" height="76.00" fill="#000" stroke="none" stroke-width="1" shape-rendering="crispEdges"/>
<rect x="231.50" y="239.50" width="131.00" height="76.00" fill="#f2f2f2" stroke="#000" stroke-width="1" shape-rendering="crispEdges"/>
<path d="M231 250.5H362" stroke="#000" stroke-width="1" fill="none" shape-rendering="crispEdges"/>
<text x="296.00" y="249.30" font-size="11" text-anchor="middle" font-weight="bold" fill="#000">Inteff</text>
<text x="238.30" y="261.80" font-size="8.9" text-anchor="start" font-weight="bold" fill="#000">Entries</text>
<text x="354.70" y="261.80" font-size="8.9" text-anchor="end" font-weight="bold" fill="#000">54929</text>
<text x="238.30" y="273.70" font-size="8.9" text-anchor="start" font-weight="bold" fill="#000"><tspan font-family="Liberation Serif,serif" font-style="italic" font-weight="normal" font-size="105%">χ</tspan><tspan font-size="65%" dy="-3.4" dx="0.6">2</tspan><tspan dy="3.4" dx="0.5"> / ndf</tspan></text>
<text x="354.70" y="273.70" font-size="8.9" text-anchor="end" font-weight="bold" fill="#000">70.39 / 44</text>
<text x="238.30" y="286.60" font-size="8.9" text-anchor="start" font-weight="bold" fill="#000">Prob</text>
<text x="354.70" y="286.60" font-size="8.9" text-anchor="end" font-weight="bold" fill="#000">0.006962</text>
<text x="238.30" y="299.50" font-size="8.9" text-anchor="start" font-weight="bold" fill="#000">p0</text>
<text x="354.70" y="299.50" font-size="8.9" text-anchor="end" font-weight="bold" fill="#000">0.01259<tspan font-weight="normal" fill="#333"> ± </tspan>0.00015</text>
<text x="238.30" y="312.40" font-size="8.9" text-anchor="start" font-weight="bold" fill="#000">p1</text>
<text x="354.70" y="312.40" font-size="8.9" text-anchor="end" font-weight="bold" fill="#000">0.4207<tspan font-weight="normal" fill="#333"> ± </tspan>0.0409</text>
<rect x="67.00" y="281.00" width="178.50" height="3.50" fill="#000" stroke="none" stroke-width="1" shape-rendering="crispEdges"/>
<rect x="242.50" y="251.00" width="3.00" height="33.50" fill="#000" stroke="none" stroke-width="1" shape-rendering="crispEdges"/>
<rect x="61.50" y="248.50" width="181.00" height="32.50" fill="#f2f2f2" stroke="#000" stroke-width="1" shape-rendering="crispEdges"/>
<rect x="68.00" y="251.30" width="31.70" height="11.40" fill="#fff" stroke="none" stroke-width="1" shape-rendering="crispEdges"/>
<rect x="68.00" y="267.40" width="31.70" height="11.60" fill="#fff" stroke="none" stroke-width="1" shape-rendering="crispEdges"/>
<path d="M68 257.5H99.7" stroke="#00ff00" stroke-width="1" fill="none" shape-rendering="crispEdges"/>
<path d="M68 273.5H99.7" stroke="#0000ff" stroke-width="1" fill="none" shape-rendering="crispEdges"/>
<rect x="83.50" y="257.00" width="1.00" height="1.00" fill="#000" stroke="none" stroke-width="1" shape-rendering="crispEdges"/>
<rect x="83.50" y="273.00" width="1.00" height="1.00" fill="#000" stroke="none" stroke-width="1" shape-rendering="crispEdges"/>
<text x="106.60" y="260.60" font-size="12.8" text-anchor="start" font-weight="normal" fill="#000">nointefficiency</text>
<text x="106.60" y="276.50" font-size="12.8" text-anchor="start" font-weight="normal" fill="#000">intefficiency</text>
<rect x="13.00" y="252.00" width="60.00" height="1.50" fill="#000" stroke="none" stroke-width="1" shape-rendering="crispEdges"/>
<rect x="72.00" y="242.00" width="1.50" height="11.00" fill="#000" stroke="none" stroke-width="1" shape-rendering="crispEdges"/>
<rect x="10.50" y="239.50" width="62.00" height="13.00" fill="#f2f2f2" stroke="#000" stroke-width="1" shape-rendering="crispEdges"/>
<text x="42.00" y="249.70" font-size="10.9" text-anchor="middle" font-weight="bold" fill="#000">Efficiency</text>
</g>
<g>
<polyline points="421.5,433.5 421.5,433.5 427.5,433.5 427.5,433.5 432.5,433.5 432.5,433.5 438.5,433.5 438.5,433.5 444.5,433.5 444.5,433.5 450.5,433.5 450.5,433.5 456.5,433.5 456.5,433.5 461.5,433.5 461.5,433.5 467.5,433.5 467.5,433.5 473.5,433.5 473.5,430.5 479.5,430.5 479.5,430.5 485.5,430.5 485.5,433.5 490.5,433.5 490.5,433.5 496.5,433.5 496.5,433.5 502.5,433.5 502.5,433.5 508.5,433.5 508.5,433.5 514.5,433.5 514.5,433.5 519.5,433.5 519.5,433.5 525.5,433.5 525.5,433.5 531.5,433.5 531.5,433.5 537.5,433.5 537.5,429.5 543.5,429.5 543.5,433.5 549.5,433.5 549.5,433.5 554.5,433.5 554.5,433.5 560.5,433.5 560.5,433.5 566.5,433.5 566.5,433.5 572.5,433.5 572.5,430.5 578.5,430.5 578.5,433.5 583.5,433.5 583.5,433.5 589.5,433.5 589.5,433.5 595.5,433.5 595.5,433.5 601.5,433.5 601.5,433.5 607.5,433.5 607.5,433.5 612.5,433.5 612.5,433.5 618.5,433.5 618.5,433.5 624.5,433.5 624.5,433.5 630.5,433.5 630.5,430.5 636.5,430.5 636.5,433.5 641.5,433.5 641.5,433.5 647.5,433.5 647.5,433.5 653.5,433.5 653.5,431.5 659.5,431.5 659.5,430.5 665.5,430.5 665.5,433.5 670.5,433.5 670.5,433.5 676.5,433.5 676.5,433.5 682.5,433.5 682.5,433.5 688.5,433.5 688.5,433.5 694.5,433.5 694.5,433.5 699.5,433.5 699.5,433.5 705.5,433.5 705.5,433.5 711.5,433.5" fill="none" stroke="#000" stroke-width="1" shape-rendering="crispEdges"/>
<polyline points="421.8,332.0 422.0,331.4 422.3,330.5 422.7,329.5 423.1,328.3 423.5,327.2 424.0,326.0 424.5,324.8 425.0,323.4 425.6,322.0 426.2,320.6 426.7,319.4 427.3,318.3 427.8,317.4 428.4,316.7 428.9,316.1 429.4,315.5 430.0,315.0 430.5,314.5 431.1,314.0 431.6,313.5 432.2,313.0 432.8,312.6 433.4,312.2 434.0,311.9 434.6,311.7 435.3,311.5 436.0,311.4 436.6,311.4 437.3,311.3 438.0,311.3 438.7,311.3 439.4,311.3 440.1,311.3 440.7,311.3 441.4,311.4 442.0,311.6 442.5,311.9 443.0,312.2 443.5,312.6 443.9,313.0 444.4,313.5 445.0,314.0 445.7,314.5 446.4,315.1 447.1,315.8 447.9,316.4 448.8,317.2 449.7,318.0 450.7,318.9 451.8,319.9 452.9,321.0 454.1,322.2 455.2,323.3 456.3,324.4 457.3,325.5 458.3,326.6 459.3,327.7 460.2,328.8 461.1,329.9 462.1,331.0 463.1,332.1 464.0,333.2 464.9,334.3 465.9,335.4 466.8,336.6 467.8,337.7 468.8,338.9 469.7,340.0 470.6,341.2 471.6,342.4 472.6,343.6 473.6,344.8 474.7,346.1 475.8,347.4 476.9,348.7 478.0,350.0 479.1,351.3 480.2,352.5 481.2,353.6 482.2,354.6 483.2,355.6 484.1,356.6 485.0,357.5 486.0,358.5 487.0,359.5 487.9,360.5 488.8,361.5 489.8,362.4 490.7,363.4 491.7,364.3 492.7,365.2 493.6,366.0 494.6,366.9 495.6,367.7 496.5,368.5 497.5,369.4 498.5,370.3 499.4,371.2 500.3,372.1 501.3,373.0 502.2,373.9 503.2,374.8 504.2,375.7 505.1,376.5 506.1,377.4 507.1,378.2 508.0,379.0 509.0,379.8 510.0,380.5 510.9,381.1 511.8,381.8 512.8,382.4 513.7,383.0 514.7,383.6 515.7,384.3 516.7,384.9 517.8,385.6 518.8,386.3 519.8,387.0 520.8,387.6 521.7,388.2 522.7,388.8 523.5,389.4 524.4,389.9 525.3,390.5 526.2,391.0 527.1,391.5 528.0,392.0 528.9,392.6 529.8,393.1 530.7,393.5 531.6,394.0 532.5,394.5 533.4,394.9 534.3,395.3 535.2,395.7 536.1,396.1 537.0,396.5 537.9,396.9 538.8,397.2 539.6,397.5 540.5,397.9 541.4,398.2 542.3,398.5 543.2,398.8 544.1,399.1 545.0,399.5 545.9,399.8 546.8,400.1 547.7,400.4 548.6,400.7 549.5,401.0 550.4,401.3 551.3,401.6 552.2,401.9 553.1,402.2 554.0,402.5 554.9,402.8 555.8,403.1 556.7,403.3 557.6,403.6 558.5,403.9 559.4,404.2 560.3,404.4 561.2,404.7 562.1,405.0 563.0,405.2 563.9,405.5 564.8,405.8 565.7,406.0 566.6,406.3 567.5,406.5 568.4,406.8 569.3,407.0 570.2,407.2 571.1,407.4 572.0,407.7 572.9,407.9 573.8,408.1 574.7,408.3 575.6,408.5 576.5,408.7 577.4,409.0 578.3,409.2 579.2,409.4 580.1,409.6 581.0,409.8 581.9,410.0 582.7,410.2 583.6,410.4 584.5,410.6 585.5,410.8 586.5,411.0 587.5,411.3 588.6,411.5 589.7,411.8 590.8,412.0 592.0,412.3 593.2,412.6 594.5,412.8 595.8,413.1 597.1,413.4 598.5,413.7 600.0,414.0 601.6,414.3 603.2,414.6 604.9,415.0 606.6,415.3 608.3,415.7 610.0,416.0 611.7,416.3 613.3,416.6 615.0,417.0 616.7,417.3 618.3,417.6 620.0,417.9 621.7,418.2 623.3,418.5 625.0,418.8 626.7,419.1 628.3,419.4 630.0,419.7 631.7,420.0 633.3,420.3 635.0,420.5 636.7,420.8 638.3,421.0 640.0,421.3 641.7,421.6 643.3,421.8 645.0,422.1 646.7,422.3 648.3,422.6 650.0,422.8 651.7,423.0 653.3,423.3 655.0,423.5 656.7,423.7 658.3,424.0 660.0,424.2 661.7,424.4 663.3,424.6 665.0,424.9 666.7,425.1 668.3,425.3 670.0,425.5 671.7,425.7 673.3,425.9 675.0,426.1 676.7,426.3 678.3,426.5 680.0,426.7 681.7,426.9 683.3,427.1 685.0,427.3 686.7,427.4 688.3,427.6 690.0,427.8 691.7,428.0 693.3,428.1 694.9,428.3 696.6,428.5 698.3,428.6 700.0,428.8 701.9,429.0 704.0,429.2 706.1,429.4 708.1,429.5 709.8,429.7 711.0,429.8" fill="none" stroke="#ff0000" stroke-width="1.0" stroke-linejoin="round" shape-rendering="crispEdges"/>
<path d="M424.5 320V344M421 332.5H428M429.5 321V344M427 332.5H433M435.5 268V295M432 281.5H439M441.5 307V332M438 318.5H445M447.5 331V352M444 341.5H451M453.5 323V346M450 334.5H457M459.5 304V327M456 316.5H462M464.5 314V336M461 325.5H468M470.5 322V344M467 333.5H474M476.5 347V368M473 357.5H480M482.5 350V370M479 360.5H486M488.5 343V363M485 353.5H491M493.5 341V362M490 350.5H497M499.5 359V378M496 368.5H503M505.5 360V379M502 369.5H509M511.5 374V390M508 381.5H515M517.5 376V393M514 384.5H520M522.5 369V387M519 378.5H526M528.5 370V389M525 379.5H532M534.5 377V394M531 385.5H538M540.5 377V394M537 385.5H544M546.5 377V394M543 385.5H550M551.5 390V405M549 398.5H555M557.5 400V412M554 404.5H561M563.5 381V397M560 389.5H567M569.5 395V409M566 402.5H573M575.5 399V412M572 405.5H579M580.5 416V425M578 420.5H584M586.5 396V411M583 403.5H590M592.5 407V419M589 413.5H596M598.5 411V422M595 416.5H602M604.5 415V425M601 420.5H608M609.5 405V417M607 411.5H613M615.5 411V422M612 417.5H619M621.5 407V419M618 413.5H625M627.5 405V418M624 411.5H631M633.5 416V426M630 421.5H637M639.5 417V428M636 421.5H642M644.5 418V427M641 422.5H648M650.5 419V428M647 422.5H654M656.5 407V418M653 412.5H660M662.5 424V431M659 428.5H666M668.5 418V427M665 422.5H671M673.5 425V432M670 428.5H677M679.5 425V432M676 428.5H683M685.5 420V429M682 425.5H689M691.5 426V432M688 429.5H695M697.5 428V434M694 430.5H700M702.5 425V432M699 428.5H706M708.5 421V429M705 425.5H712" stroke="#ff0000" stroke-width="1" fill="none" shape-rendering="crispEdges"/>
<polyline points="421.5,320.5 427.5,320.5 427.5,300.5 432.5,300.5 432.5,298.5 438.5,298.5 438.5,301.5 444.5,301.5 444.5,306.5 450.5,306.5 450.5,319.5 456.5,319.5 456.5,325.5 461.5,325.5 461.5,333.5 467.5,333.5 467.5,336.5 473.5,336.5 473.5,344.5 479.5,344.5 479.5,348.5 485.5,348.5 485.5,358.5 490.5,358.5 490.5,361.5 496.5,361.5 496.5,368.5 502.5,368.5 502.5,377.5 508.5,377.5 508.5,378.5 514.5,378.5 514.5,381.5 519.5,381.5 519.5,383.5 525.5,383.5 525.5,390.5 531.5,390.5 531.5,392.5 537.5,392.5 537.5,394.5 543.5,394.5 543.5,398.5 549.5,398.5 549.5,400.5 554.5,400.5 554.5,403.5 560.5,403.5 560.5,404.5 566.5,404.5 566.5,404.5 572.5,404.5 572.5,408.5 578.5,408.5 578.5,409.5 583.5,409.5 583.5,411.5 589.5,411.5 589.5,413.5 595.5,413.5 595.5,413.5 601.5,413.5 601.5,415.5 607.5,415.5 607.5,416.5 612.5,416.5 612.5,417.5 618.5,417.5 618.5,419.5 624.5,419.5 624.5,420.5 630.5,420.5 630.5,421.5 636.5,421.5 636.5,421.5 641.5,421.5 641.5,421.5 647.5,421.5 647.5,423.5 653.5,423.5 653.5,424.5 659.5,424.5 659.5,425.5 665.5,425.5 665.5,425.5 670.5,425.5 670.5,425.5 676.5,425.5 676.5,426.5 682.5,426.5 682.5,427.5 688.5,427.5 688.5,427.5 694.5,427.5 694.5,428.5 699.5,428.5 699.5,428.5 705.5,428.5 705.5,428.5 711.5,428.5" fill="none" stroke="#0000ff" stroke-width="1" shape-rendering="crispEdges"/>
<polyline points="421.5,288.5 427.5,288.5 427.5,291.5 432.5,291.5 432.5,305.5 438.5,305.5 438.5,309.5 444.5,309.5 444.5,317.5 450.5,317.5 450.5,322.5 456.5,322.5 456.5,333.5 461.5,333.5 461.5,339.5 467.5,339.5 467.5,344.5 473.5,344.5 473.5,350.5 479.5,350.5 479.5,354.5 485.5,354.5 485.5,360.5 490.5,360.5 490.5,364.5 496.5,364.5 496.5,368.5 502.5,368.5 502.5,374.5 508.5,374.5 508.5,379.5 514.5,379.5 514.5,382.5 519.5,382.5 519.5,382.5 525.5,382.5 525.5,386.5 531.5,386.5 531.5,390.5 537.5,390.5 537.5,390.5 543.5,390.5 543.5,396.5 549.5,396.5 549.5,399.5 554.5,399.5 554.5,399.5 560.5,399.5 560.5,403.5 566.5,403.5 566.5,405.5 572.5,405.5 572.5,408.5 578.5,408.5 578.5,407.5 583.5,407.5 583.5,410.5 589.5,410.5 589.5,412.5 595.5,412.5 595.5,415.5 601.5,415.5 601.5,414.5 607.5,414.5 607.5,416.5 612.5,416.5 612.5,415.5 618.5,415.5 618.5,420.5 624.5,420.5 624.5,420.5 630.5,420.5 630.5,420.5 636.5,420.5 636.5,421.5 641.5,421.5 641.5,423.5 647.5,423.5 647.5,423.5 653.5,423.5 653.5,423.5 659.5,423.5 659.5,425.5 665.5,425.5 665.5,424.5 670.5,424.5 670.5,426.5 676.5,426.5 676.5,426.5 682.5,426.5 682.5,425.5 688.5,425.5 688.5,428.5 694.5,428.5 694.5,427.5 699.5,427.5 699.5,428.5 705.5,428.5 705.5,428.5 711.5,428.5" fill="none" stroke="#00ff00" stroke-width="1" shape-rendering="crispEdges"/>
<rect x="421.50" y="259.50" width="290.00" height="175.00" fill="none" stroke="#000" stroke-width="1" shape-rendering="crispEdges"/>
<path d="M421.5 434.5V429M427.5 434.5V431M432.5 434.5V431M438.5 434.5V431M444.5 434.5V431M450.5 434.5V429M456.5 434.5V431M461.5 434.5V431M467.5 434.5V431M473.5 434.5V431M479.5 434.5V429M485.5 434.5V431M490.5 434.5V431M496.5 434.5V431M502.5 434.5V431M508.5 434.5V429M514.5 434.5V431M519.5 434.5V431M525.5 434.5V431M531.5 434.5V431M537.5 434.5V429M543.5 434.5V431M549.5 434.5V431M554.5 434.5V431M560.5 434.5V431M566.5 434.5V429M572.5 434.5V431M578.5 434.5V431M583.5 434.5V431M589.5 434.5V431M595.5 434.5V429M601.5 434.5V431M607.5 434.5V431M612.5 434.5V431M618.5 434.5V431M624.5 434.5V429M630.5 434.5V431M636.5 434.5V431M641.5 434.5V431M647.5 434.5V431M653.5 434.5V429M659.5 434.5V431M665.5 434.5V431M670.5 434.5V431M676.5 434.5V431M682.5 434.5V429M688.5 434.5V431M694.5 434.5V431M699.5 434.5V431M705.5 434.5V431M711.5 434.5V429" stroke="#000" stroke-width="1" fill="none" shape-rendering="crispEdges"/>
<text transform="translate(418.89,442.00) scale(0.94,1)" font-size="8.6" text-anchor="middle" font-weight="bold" fill="#000">0</text>
<text transform="translate(448.83,442.00) scale(0.94,1)" font-size="8.6" text-anchor="middle" font-weight="bold" fill="#000">0.001</text>
<text transform="translate(477.97,442.00) scale(0.94,1)" font-size="8.6" text-anchor="middle" font-weight="bold" fill="#000">0.002</text>
<text transform="translate(507.11,442.00) scale(0.94,1)" font-size="8.6" text-anchor="middle" font-weight="bold" fill="#000">0.003</text>
<text transform="translate(536.25,442.00) scale(0.94,1)" font-size="8.6" text-anchor="middle" font-weight="bold" fill="#000">0.004</text>
<text transform="translate(565.39,442.00) scale(0.94,1)" font-size="8.6" text-anchor="middle" font-weight="bold" fill="#000">0.005</text>
<text transform="translate(594.53,442.00) scale(0.94,1)" font-size="8.6" text-anchor="middle" font-weight="bold" fill="#000">0.006</text>
<text transform="translate(623.67,442.00) scale(0.94,1)" font-size="8.6" text-anchor="middle" font-weight="bold" fill="#000">0.007</text>
<text transform="translate(652.81,442.00) scale(0.94,1)" font-size="8.6" text-anchor="middle" font-weight="bold" fill="#000">0.008</text>
<text transform="translate(681.95,442.00) scale(0.94,1)" font-size="8.6" text-anchor="middle" font-weight="bold" fill="#000">0.009</text>
<text transform="translate(710.29,442.00) scale(0.94,1)" font-size="8.6" text-anchor="middle" font-weight="bold" fill="#000">0.01</text>
<path d="M421.5 434.5H429.5M421.5 411.5H429.5M421.5 388.5H429.5M421.5 364.5H429.5M421.5 341.5H429.5M421.5 318.5H429.5M421.5 295.5H429.5M421.5 272.5H429.5M421.5 428.5H425.5M421.5 422.5H425.5M421.5 417.5H425.5M421.5 405.5H425.5M421.5 399.5H425.5M421.5 393.5H425.5M421.5 382.5H425.5M421.5 376.5H425.5M421.5 370.5H425.5M421.5 359.5H425.5M421.5 353.5H425.5M421.5 347.5H425.5M421.5 335.5H425.5M421.5 330.5H425.5M421.5 324.5H425.5M421.5 312.5H425.5M421.5 306.5H425.5M421.5 301.5H425.5M421.5 289.5H425.5M421.5 283.5H425.5M421.5 277.5H425.5M421.5 266.5H425.5M421.5 260.5H425.5" stroke="#000" stroke-width="1" fill="none" shape-rendering="crispEdges"/>
<text transform="translate(419.20,437.50) scale(0.94,1)" font-size="8.6" text-anchor="end" font-weight="bold" fill="#000">0</text>
<text transform="translate(419.20,414.30) scale(0.94,1)" font-size="8.6" text-anchor="end" font-weight="bold" fill="#000">20</text>
<text transform="translate(419.20,391.10) scale(0.94,1)" font-size="8.6" text-anchor="end" font-weight="bold" fill="#000">40</text>
<text transform="translate(419.20,367.90) scale(0.94,1)" font-size="8.6" text-anchor="end" font-weight="bold" fill="#000">60</text>
<text transform="translate(419.20,344.70) scale(0.94,1)" font-size="8.6" text-anchor="end" font-weight="bold" fill="#000">80</text>
<text transform="translate(419.20,321.50) scale(0.94,1)" font-size="8.6" text-anchor="end" font-weight="bold" fill="#000">100</text>
<text transform="translate(419.20,298.30) scale(0.94,1)" font-size="8.6" text-anchor="end" font-weight="bold" fill="#000">120</text>
<text transform="translate(419.20,275.10) scale(0.94,1)" font-size="8.6" text-anchor="end" font-weight="bold" fill="#000">140</text>
<rect x="391.00" y="252.00" width="83.00" height="1.50" fill="#000" stroke="none" stroke-width="1" shape-rendering="crispEdges"/>
<rect x="473.00" y="242.00" width="1.50" height="11.00" fill="#000" stroke="none" stroke-width="1" shape-rendering="crispEdges"/>
<rect x="388.50" y="239.50" width="85.00" height="13.00" fill="#f2f2f2" stroke="#000" stroke-width="1" shape-rendering="crispEdges"/>
<text x="430.00" y="249.60" font-size="10.9" text-anchor="middle" font-weight="bold" fill="#000">t (uncorrected)</text>
<text x="0.00" y="0.00" font-size="7.9" text-anchor="end" font-weight="bold" fill="#000" transform="translate(399.8,259.3) rotate(-90)">dN/dt</text>
<text transform="translate(711.20,450.20) scale(0.93,1)" font-size="8.4" text-anchor="end" font-weight="bold" fill="#000">t ~ p_T^2</text>
<rect x="670.00" y="347.50" width="72.00" height="1.50" fill="#000" stroke="none" stroke-width="1" shape-rendering="crispEdges"/>
<rect x="740.00" y="241.00" width="1.50" height="108.50" fill="#000" stroke="none" stroke-width="1" shape-rendering="crispEdges"/>
<rect x="668.50" y="239.50" width="72.00" height="108.50" fill="#f2f2f2" stroke="#000" stroke-width="1" shape-rendering="crispEdges"/>
<path d="M668 254.5H740" stroke="#000" stroke-width="1" fill="none" shape-rendering="crispEdges"/>
<text x="703.00" y="249.90" font-size="12.6" text-anchor="middle" font-weight="bold" fill="#000">tbg2</text>
<text x="671.00" y="264.70" font-size="6.9" text-anchor="start" font-weight="bold" fill="#000">Entries</text>
<text x="735.70" y="264.70" font-size="6.9" text-anchor="end" font-weight="bold" fill="#000">33</text>
<text x="671.00" y="280.00" font-size="6.9" text-anchor="start" font-weight="bold" fill="#000">Mean</text>
<text x="735.70" y="280.00" font-size="6.9" text-anchor="end" font-weight="bold" fill="#000">0.0051</text>
<text x="671.00" y="295.70" font-size="6.9" text-anchor="start" font-weight="bold" fill="#000">RMS</text>
<text x="735.70" y="295.70" font-size="6.9" text-anchor="end" font-weight="bold" fill="#000">0.002838</text>
<text x="671.00" y="311.60" font-size="6.9" text-anchor="start" font-weight="bold" fill="#000">Underflow</text>
<text x="735.70" y="311.60" font-size="6.9" text-anchor="end" font-weight="bold" fill="#000">0</text>
<text x="671.00" y="326.60" font-size="6.9" text-anchor="start" font-weight="bold" fill="#000">Overflow</text>
<text x="735.70" y="326.60" font-size="6.9" text-anchor="end" font-weight="bold" fill="#000">0</text>
<text x="671.00" y="342.30" font-size="6.9" text-anchor="start" font-weight="bold" fill="#000">Integral</text>
<text x="735.70" y="342.30" font-size="6.9" text-anchor="end" font-weight="bold" fill="#000">33</text>
</g>
<g>
<polyline points="43.8,569.2 44.1,568.4 44.4,567.2 44.8,565.8 45.3,564.3 45.8,562.8 46.3,561.3 46.8,559.8 47.3,558.1 47.9,556.4 48.4,554.7 49.0,553.1 49.5,551.8 50.0,550.7 50.5,549.7 51.0,548.9 51.5,548.1 52.0,547.4 52.6,546.8 53.2,546.2 53.8,545.7 54.5,545.3 55.2,544.9 55.8,544.6 56.5,544.3 57.2,544.1 57.8,543.9 58.5,543.8 59.1,543.7 59.8,543.6 60.5,543.6 61.2,543.6 61.8,543.5 62.5,543.5 63.2,543.5 63.9,543.7 64.8,544.2 65.8,544.9 66.8,545.8 68.0,546.8 69.2,548.0 70.4,549.3 71.6,550.6 72.9,552.0 74.2,553.6 75.5,555.3 76.8,557.0 78.2,558.8 79.5,560.5 80.8,562.2 82.1,563.9 83.5,565.6 84.8,567.4 86.1,569.1 87.4,570.8 88.7,572.5 90.0,574.3 91.4,576.0 92.7,577.7 94.0,579.4 95.3,581.1 96.6,582.8 98.0,584.4 99.3,586.1 100.6,587.7 101.9,589.3 103.2,590.8 104.5,592.3 105.7,593.8 106.9,595.2 108.1,596.6 109.2,597.9 110.3,599.1 111.3,600.1 112.1,601.0 113.0,601.7 113.8,602.4 114.6,603.2 115.5,604.0 116.5,604.9 117.4,605.9 118.4,606.8 119.5,607.8 120.5,608.8 121.5,609.7 122.5,610.6 123.5,611.5 124.5,612.3 125.6,613.2 126.6,614.0 127.6,614.8 128.6,615.6 129.6,616.3 130.6,617.1 131.6,617.8 132.6,618.5 133.6,619.2 134.6,619.9 135.6,620.5 136.6,621.1 137.5,621.8 138.5,622.3 139.4,622.9 140.3,623.4 141.1,623.9 142.0,624.4 142.8,624.9 143.7,625.3 144.6,625.8 145.6,626.3 146.5,626.8 147.5,627.3 148.6,627.8 149.6,628.3 150.6,628.8 151.6,629.3 152.6,629.7 153.6,630.2 154.6,630.6 155.6,631.1 156.6,631.5 157.6,631.9 158.5,632.3 159.5,632.7 160.5,633.1 161.4,633.5 162.4,633.9 163.4,634.3 164.4,634.7 165.5,635.0 166.5,635.4 167.5,635.8 168.5,636.1 169.4,636.4 170.3,636.7 171.1,637.0 171.9,637.2 172.7,637.5 173.6,637.8 174.5,638.1 175.4,638.4 176.4,638.7 177.3,639.0 178.3,639.3 179.3,639.6 180.3,639.9 181.4,640.2 182.4,640.5 183.5,640.8 184.6,641.1 185.6,641.4 186.6,641.7 187.6,641.9 188.5,642.2 189.5,642.4 190.4,642.7 191.4,642.9 192.4,643.1 193.4,643.4 194.4,643.6 195.4,643.8 196.4,644.0 197.4,644.2 198.4,644.4 199.3,644.6 200.2,644.8 201.1,645.0 202.1,645.2 203.0,645.4 204.0,645.6 204.9,645.8 205.9,646.0 206.9,646.1 207.8,646.3 208.8,646.5 209.8,646.7 210.7,646.9 211.7,647.1 212.7,647.2 213.6,647.4 214.6,647.6 215.6,647.8 216.5,647.9 217.5,648.1 218.5,648.3 219.4,648.4 220.4,648.6 221.4,648.8 222.3,648.9 223.3,649.1 224.3,649.3 225.2,649.4 226.2,649.6 227.2,649.8 228.1,649.9 229.1,650.1 230.1,650.2 231.0,650.4 232.0,650.5 233.0,650.6 233.9,650.8 234.9,651.0 235.9,651.1 236.8,651.3 237.8,651.4 238.8,651.5 239.7,651.7 240.7,651.8 241.7,652.0 242.6,652.1 243.6,652.3 244.6,652.5 245.5,652.6 246.5,652.8 247.5,652.9 248.4,653.1 249.4,653.2 250.3,653.3 251.2,653.5 252.1,653.6 253.0,653.7 254.0,653.9 255.0,654.0 256.0,654.1 257.0,654.3 258.1,654.5 259.2,654.6 260.4,654.8 261.9,655.0 263.6,655.2 265.5,655.5 267.5,655.8 269.6,656.1 271.8,656.3 273.8,656.6 275.8,656.8 277.8,657.1 279.8,657.3 281.7,657.6 283.7,657.8 285.7,658.0 287.7,658.2 289.7,658.4 291.6,658.6 293.6,658.8 295.6,659.0 297.6,659.2 299.6,659.4 301.6,659.6 303.6,659.8 305.5,659.9 307.5,660.1 309.5,660.3 311.5,660.5 313.5,660.6 315.4,660.8 317.4,661.0 319.4,661.1 321.4,661.3 323.5,661.5 325.8,661.6 328.1,661.8 330.2,661.9 332.0,662.0 333.3,662.1" fill="none" stroke="#ff0000" stroke-width="1.0" stroke-linejoin="round" shape-rendering="crispEdges"/>
<path d="M46.5 569V588M43 577.5H50" stroke="#ff0000" stroke-width="1" fill="none" shape-rendering="crispEdges"/>
<rect x="46.00" y="577.00" width="1.00" height="1.00" fill="#000" stroke="none" stroke-width="1" shape-rendering="crispEdges"/>
<path d="M51.5 549V574M49 561.5H55" stroke="#ff0000" stroke-width="1" fill="none" shape-rendering="crispEdges"/>
<rect x="51.00" y="561.00" width="1.00" height="1.00" fill="#000" stroke="none" stroke-width="1" shape-rendering="crispEdges"/>
<path d="M57.5 500V528M54 513.5H61" stroke="#ff0000" stroke-width="1" fill="none" shape-rendering="crispEdges"/>
<rect x="57.00" y="513.00" width="1.00" height="1.00" fill="#000" stroke="none" stroke-width="1" shape-rendering="crispEdges"/>
<path d="M63.5 540V565M60 552.5H67" stroke="#ff0000" stroke-width="1" fill="none" shape-rendering="crispEdges"/>
<rect x="63.00" y="552.00" width="1.00" height="1.00" fill="#000" stroke="none" stroke-width="1" shape-rendering="crispEdges"/>
<path d="M69.5 565V586M66 575.5H73" stroke="#ff0000" stroke-width="1" fill="none" shape-rendering="crispEdges"/>
<rect x="69.00" y="575.00" width="1.00" height="1.00" fill="#000" stroke="none" stroke-width="1" shape-rendering="crispEdges"/>
<path d="M75.5 557V579M72 568.5H79" stroke="#ff0000" stroke-width="1" fill="none" shape-rendering="crispEdges"/>
<rect x="75.00" y="568.00" width="1.00" height="1.00" fill="#000" stroke="none" stroke-width="1" shape-rendering="crispEdges"/>
<path d="M81.5 539V562M78 550.5H84" stroke="#ff0000" stroke-width="1" fill="none" shape-rendering="crispEdges"/>
<rect x="81.00" y="550.00" width="1.00" height="1.00" fill="#000" stroke="none" stroke-width="1" shape-rendering="crispEdges"/>
<path d="M86.5 549V572M83 560.5H90" stroke="#ff0000" stroke-width="1" fill="none" shape-rendering="crispEdges"/>
<rect x="86.00" y="560.00" width="1.00" height="1.00" fill="#000" stroke="none" stroke-width="1" shape-rendering="crispEdges"/>
<path d="M92.5 558V580M89 568.5H96" stroke="#ff0000" stroke-width="1" fill="none" shape-rendering="crispEdges"/>
<rect x="92.00" y="568.00" width="1.00" height="1.00" fill="#000" stroke="none" stroke-width="1" shape-rendering="crispEdges"/>
<path d="M98.5 583V603M95 592.5H102" stroke="#ff0000" stroke-width="1" fill="none" shape-rendering="crispEdges"/>
<rect x="98.00" y="592.00" width="1.00" height="1.00" fill="#000" stroke="none" stroke-width="1" shape-rendering="crispEdges"/>
<path d="M104.5 586V605M101 594.5H108" stroke="#ff0000" stroke-width="1" fill="none" shape-rendering="crispEdges"/>
<rect x="104.00" y="594.00" width="1.00" height="1.00" fill="#000" stroke="none" stroke-width="1" shape-rendering="crispEdges"/>
<path d="M110.5 580V599M107 589.5H113" stroke="#ff0000" stroke-width="1" fill="none" shape-rendering="crispEdges"/>
<rect x="110.00" y="589.00" width="1.00" height="1.00" fill="#000" stroke="none" stroke-width="1" shape-rendering="crispEdges"/>
<path d="M115.5 578V597M112 587.5H119" stroke="#ff0000" stroke-width="1" fill="none" shape-rendering="crispEdges"/>
<rect x="115.00" y="587.00" width="1.00" height="1.00" fill="#000" stroke="none" stroke-width="1" shape-rendering="crispEdges"/>
<path d="M121.5 596V613M118 604.5H125" stroke="#ff0000" stroke-width="1" fill="none" shape-rendering="crispEdges"/>
<rect x="121.00" y="604.00" width="1.00" height="1.00" fill="#000" stroke="none" stroke-width="1" shape-rendering="crispEdges"/>
<path d="M127.5 597V614M124 605.5H131" stroke="#ff0000" stroke-width="1" fill="none" shape-rendering="crispEdges"/>
<rect x="127.00" y="605.00" width="1.00" height="1.00" fill="#000" stroke="none" stroke-width="1" shape-rendering="crispEdges"/>
<path d="M133.5 610V626M130 618.5H137" stroke="#ff0000" stroke-width="1" fill="none" shape-rendering="crispEdges"/>
<rect x="133.00" y="618.00" width="1.00" height="1.00" fill="#000" stroke="none" stroke-width="1" shape-rendering="crispEdges"/>
<path d="M139.5 613V628M136 620.5H142" stroke="#ff0000" stroke-width="1" fill="none" shape-rendering="crispEdges"/>
<rect x="139.00" y="620.00" width="1.00" height="1.00" fill="#000" stroke="none" stroke-width="1" shape-rendering="crispEdges"/>
<path d="M144.5 608V623M141 615.5H148" stroke="#ff0000" stroke-width="1" fill="none" shape-rendering="crispEdges"/>
<rect x="144.00" y="615.00" width="1.00" height="1.00" fill="#000" stroke="none" stroke-width="1" shape-rendering="crispEdges"/>
<path d="M150.5 609V625M147 616.5H154" stroke="#ff0000" stroke-width="1" fill="none" shape-rendering="crispEdges"/>
<rect x="150.00" y="616.00" width="1.00" height="1.00" fill="#000" stroke="none" stroke-width="1" shape-rendering="crispEdges"/>
<path d="M156.5 615V630M153 622.5H160" stroke="#ff0000" stroke-width="1" fill="none" shape-rendering="crispEdges"/>
<rect x="156.00" y="622.00" width="1.00" height="1.00" fill="#000" stroke="none" stroke-width="1" shape-rendering="crispEdges"/>
<path d="M162.5 615V630M159 622.5H166" stroke="#ff0000" stroke-width="1" fill="none" shape-rendering="crispEdges"/>
<rect x="162.00" y="622.00" width="1.00" height="1.00" fill="#000" stroke="none" stroke-width="1" shape-rendering="crispEdges"/>
<path d="M168.5 616V630M165 622.5H172" stroke="#ff0000" stroke-width="1" fill="none" shape-rendering="crispEdges"/>
<rect x="168.00" y="622.00" width="1.00" height="1.00" fill="#000" stroke="none" stroke-width="1" shape-rendering="crispEdges"/>
<path d="M173.5 628V641M171 634.5H177" stroke="#ff0000" stroke-width="1" fill="none" shape-rendering="crispEdges"/>
<rect x="173.00" y="634.00" width="1.00" height="1.00" fill="#000" stroke="none" stroke-width="1" shape-rendering="crispEdges"/>
<path d="M179.5 635V646M176 640.5H183" stroke="#ff0000" stroke-width="1" fill="none" shape-rendering="crispEdges"/>
<rect x="179.00" y="640.00" width="1.00" height="1.00" fill="#000" stroke="none" stroke-width="1" shape-rendering="crispEdges"/>
<path d="M185.5 620V633M182 626.5H189" stroke="#ff0000" stroke-width="1" fill="none" shape-rendering="crispEdges"/>
<rect x="185.00" y="626.00" width="1.00" height="1.00" fill="#000" stroke="none" stroke-width="1" shape-rendering="crispEdges"/>
<path d="M191.5 632V644M188 637.5H195" stroke="#ff0000" stroke-width="1" fill="none" shape-rendering="crispEdges"/>
<rect x="191.00" y="637.00" width="1.00" height="1.00" fill="#000" stroke="none" stroke-width="1" shape-rendering="crispEdges"/>
<path d="M197.5 636V647M194 641.5H201" stroke="#ff0000" stroke-width="1" fill="none" shape-rendering="crispEdges"/>
<rect x="197.00" y="641.00" width="1.00" height="1.00" fill="#000" stroke="none" stroke-width="1" shape-rendering="crispEdges"/>
<path d="M202.5 650V658M200 654.5H206" stroke="#ff0000" stroke-width="1" fill="none" shape-rendering="crispEdges"/>
<rect x="202.00" y="654.00" width="1.00" height="1.00" fill="#000" stroke="none" stroke-width="1" shape-rendering="crispEdges"/>
<path d="M208.5 634V646M205 639.5H212" stroke="#ff0000" stroke-width="1" fill="none" shape-rendering="crispEdges"/>
<rect x="208.00" y="639.00" width="1.00" height="1.00" fill="#000" stroke="none" stroke-width="1" shape-rendering="crispEdges"/>
<path d="M214.5 644V653M211 648.5H218" stroke="#ff0000" stroke-width="1" fill="none" shape-rendering="crispEdges"/>
<rect x="214.00" y="648.00" width="1.00" height="1.00" fill="#000" stroke="none" stroke-width="1" shape-rendering="crispEdges"/>
<path d="M220.5 647V656M217 651.5H224" stroke="#ff0000" stroke-width="1" fill="none" shape-rendering="crispEdges"/>
<rect x="220.00" y="651.00" width="1.00" height="1.00" fill="#000" stroke="none" stroke-width="1" shape-rendering="crispEdges"/>
<path d="M226.5 651V658M223 654.5H230" stroke="#ff0000" stroke-width="1" fill="none" shape-rendering="crispEdges"/>
<rect x="226.00" y="654.00" width="1.00" height="1.00" fill="#000" stroke="none" stroke-width="1" shape-rendering="crispEdges"/>
<path d="M231.5 642V652M229 646.5H235" stroke="#ff0000" stroke-width="1" fill="none" shape-rendering="crispEdges"/>
<rect x="231.00" y="646.00" width="1.00" height="1.00" fill="#000" stroke="none" stroke-width="1" shape-rendering="crispEdges"/>
<path d="M237.5 648V656M234 651.5H241" stroke="#ff0000" stroke-width="1" fill="none" shape-rendering="crispEdges"/>
<rect x="237.00" y="651.00" width="1.00" height="1.00" fill="#000" stroke="none" stroke-width="1" shape-rendering="crispEdges"/>
<path d="M243.5 644V654M240 648.5H247" stroke="#ff0000" stroke-width="1" fill="none" shape-rendering="crispEdges"/>
<rect x="243.00" y="648.00" width="1.00" height="1.00" fill="#000" stroke="none" stroke-width="1" shape-rendering="crispEdges"/>
<path d="M249.5 642V652M246 647.5H253" stroke="#ff0000" stroke-width="1" fill="none" shape-rendering="crispEdges"/>
<rect x="249.00" y="647.00" width="1.00" height="1.00" fill="#000" stroke="none" stroke-width="1" shape-rendering="crispEdges"/>
<path d="M255.5 651V659M252 655.5H259" stroke="#ff0000" stroke-width="1" fill="none" shape-rendering="crispEdges"/>
<rect x="255.00" y="655.00" width="1.00" height="1.00" fill="#000" stroke="none" stroke-width="1" shape-rendering="crispEdges"/>
<path d="M261.5 653V661M258 657.5H264" stroke="#ff0000" stroke-width="1" fill="none" shape-rendering="crispEdges"/>
<rect x="261.00" y="657.00" width="1.00" height="1.00" fill="#000" stroke="none" stroke-width="1" shape-rendering="crispEdges"/>
<path d="M266.5 652V660M263 655.5H270" stroke="#ff0000" stroke-width="1" fill="none" shape-rendering="crispEdges"/>
<rect x="266.00" y="655.00" width="1.00" height="1.00" fill="#000" stroke="none" stroke-width="1" shape-rendering="crispEdges"/>
<path d="M272.5 654V661M269 657.5H276" stroke="#ff0000" stroke-width="1" fill="none" shape-rendering="crispEdges"/>
<rect x="272.00" y="657.00" width="1.00" height="1.00" fill="#000" stroke="none" stroke-width="1" shape-rendering="crispEdges"/>
<path d="M278.5 643V653M275 648.5H282" stroke="#ff0000" stroke-width="1" fill="none" shape-rendering="crispEdges"/>
<rect x="278.00" y="648.00" width="1.00" height="1.00" fill="#000" stroke="none" stroke-width="1" shape-rendering="crispEdges"/>
<path d="M284.5 658V665M281 661.5H288" stroke="#ff0000" stroke-width="1" fill="none" shape-rendering="crispEdges"/>
<rect x="284.00" y="661.00" width="1.00" height="1.00" fill="#000" stroke="none" stroke-width="1" shape-rendering="crispEdges"/>
<path d="M290.5 653V662M287 657.5H293" stroke="#ff0000" stroke-width="1" fill="none" shape-rendering="crispEdges"/>
<rect x="290.00" y="657.00" width="1.00" height="1.00" fill="#000" stroke="none" stroke-width="1" shape-rendering="crispEdges"/>
<path d="M295.5 658V665M292 661.5H299" stroke="#ff0000" stroke-width="1" fill="none" shape-rendering="crispEdges"/>
<rect x="295.00" y="661.00" width="1.00" height="1.00" fill="#000" stroke="none" stroke-width="1" shape-rendering="crispEdges"/>
<path d="M301.5 659V665M298 662.5H305" stroke="#ff0000" stroke-width="1" fill="none" shape-rendering="crispEdges"/>
<rect x="301.00" y="662.00" width="1.00" height="1.00" fill="#000" stroke="none" stroke-width="1" shape-rendering="crispEdges"/>
<path d="M307.5 655V663M304 659.5H311" stroke="#ff0000" stroke-width="1" fill="none" shape-rendering="crispEdges"/>
<rect x="307.00" y="659.00" width="1.00" height="1.00" fill="#000" stroke="none" stroke-width="1" shape-rendering="crispEdges"/>
<path d="M313.5 660V666M310 662.5H317" stroke="#ff0000" stroke-width="1" fill="none" shape-rendering="crispEdges"/>
<rect x="313.00" y="662.00" width="1.00" height="1.00" fill="#000" stroke="none" stroke-width="1" shape-rendering="crispEdges"/>
<path d="M319.5 661V667M316 663.5H322" stroke="#ff0000" stroke-width="1" fill="none" shape-rendering="crispEdges"/>
<rect x="319.00" y="663.00" width="1.00" height="1.00" fill="#000" stroke="none" stroke-width="1" shape-rendering="crispEdges"/>
<path d="M324.5 658V665M321 661.5H328" stroke="#ff0000" stroke-width="1" fill="none" shape-rendering="crispEdges"/>
<rect x="324.00" y="661.00" width="1.00" height="1.00" fill="#000" stroke="none" stroke-width="1" shape-rendering="crispEdges"/>
<path d="M330.5 655V664M327 659.5H334" stroke="#ff0000" stroke-width="1" fill="none" shape-rendering="crispEdges"/>
<rect x="330.00" y="659.00" width="1.00" height="1.00" fill="#000" stroke="none" stroke-width="1" shape-rendering="crispEdges"/>
<rect x="43.50" y="491.50" width="290.00" height="175.00" fill="none" stroke="#000" stroke-width="1" shape-rendering="crispEdges"/>
<path d="M43.5 666.5V661M49.5 666.5V663M54.5 666.5V663M60.5 666.5V663M66.5 666.5V663M72.5 666.5V661M78.5 666.5V663M83.5 666.5V663M89.5 666.5V663M95.5 666.5V663M101.5 666.5V661M107.5 666.5V663M112.5 666.5V663M118.5 666.5V663M124.5 666.5V663M130.5 666.5V661M136.5 666.5V663M141.5 666.5V663M147.5 666.5V663M153.5 666.5V663M159.5 666.5V661M165.5 666.5V663M171.5 666.5V663M176.5 666.5V663M182.5 666.5V663M188.5 666.5V661M194.5 666.5V663M200.5 666.5V663M205.5 666.5V663M211.5 666.5V663M217.5 666.5V661M223.5 666.5V663M229.5 666.5V663M234.5 666.5V663M240.5 666.5V663M246.5 666.5V661M252.5 666.5V663M258.5 666.5V663M263.5 666.5V663M269.5 666.5V663M275.5 666.5V661M281.5 666.5V663M287.5 666.5V663M292.5 666.5V663M298.5 666.5V663M304.5 666.5V661M310.5 666.5V663M316.5 666.5V663M321.5 666.5V663M327.5 666.5V663M333.5 666.5V661" stroke="#000" stroke-width="1" fill="none" shape-rendering="crispEdges"/>
<text transform="translate(40.89,674.00) scale(0.94,1)" font-size="8.6" text-anchor="middle" font-weight="bold" fill="#000">0</text>
<text transform="translate(70.83,674.00) scale(0.94,1)" font-size="8.6" text-anchor="middle" font-weight="bold" fill="#000">0.001</text>
<text transform="translate(99.97,674.00) scale(0.94,1)" font-size="8.6" text-anchor="middle" font-weight="bold" fill="#000">0.002</text>
<text transform="translate(129.11,674.00) scale(0.94,1)" font-size="8.6" text-anchor="middle" font-weight="bold" fill="#000">0.003</text>
<text transform="translate(158.25,674.00) scale(0.94,1)" font-size="8.6" text-anchor="middle" font-weight="bold" fill="#000">0.004</text>
<text transform="translate(187.39,674.00) scale(0.94,1)" font-size="8.6" text-anchor="middle" font-weight="bold" fill="#000">0.005</text>
<text transform="translate(216.53,674.00) scale(0.94,1)" font-size="8.6" text-anchor="middle" font-weight="bold" fill="#000">0.006</text>
<text transform="translate(245.67,674.00) scale(0.94,1)" font-size="8.6" text-anchor="middle" font-weight="bold" fill="#000">0.007</text>
<text transform="translate(274.81,674.00) scale(0.94,1)" font-size="8.6" text-anchor="middle" font-weight="bold" fill="#000">0.008</text>
<text transform="translate(303.95,674.00) scale(0.94,1)" font-size="8.6" text-anchor="middle" font-weight="bold" fill="#000">0.009</text>
<text transform="translate(332.29,674.00) scale(0.94,1)" font-size="8.6" text-anchor="middle" font-weight="bold" fill="#000">0.01</text>
<path d="M43.5 666.5H51.5M43.5 636.5H51.5M43.5 606.5H51.5M43.5 577.5H51.5M43.5 547.5H51.5M43.5 517.5H51.5M43.5 658.5H47.5M43.5 651.5H47.5M43.5 644.5H47.5M43.5 629.5H47.5M43.5 621.5H47.5M43.5 614.5H47.5M43.5 599.5H47.5M43.5 592.5H47.5M43.5 584.5H47.5M43.5 569.5H47.5M43.5 562.5H47.5M43.5 554.5H47.5M43.5 539.5H47.5M43.5 532.5H47.5M43.5 525.5H47.5M43.5 510.5H47.5M43.5 502.5H47.5M43.5 495.5H47.5" stroke="#000" stroke-width="1" fill="none" shape-rendering="crispEdges"/>
<text transform="translate(41.20,669.40) scale(0.94,1)" font-size="8.6" text-anchor="end" font-weight="bold" fill="#000">0</text>
<text transform="translate(41.20,639.64) scale(0.94,1)" font-size="8.6" text-anchor="end" font-weight="bold" fill="#000">2000</text>
<text transform="translate(41.20,609.88) scale(0.94,1)" font-size="8.6" text-anchor="end" font-weight="bold" fill="#000">4000</text>
<text transform="translate(41.20,580.12) scale(0.94,1)" font-size="8.6" text-anchor="end" font-weight="bold" fill="#000">6000</text>
<text transform="translate(41.20,550.36) scale(0.94,1)" font-size="8.6" text-anchor="end" font-weight="bold" fill="#000">8000</text>
<text transform="translate(41.20,520.60) scale(0.94,1)" font-size="8.6" text-anchor="end" font-weight="bold" fill="#000">10000</text>
<rect x="13.00" y="481.00" width="47.00" height="1.50" fill="#000" stroke="none" stroke-width="1" shape-rendering="crispEdges"/>
<rect x="59.00" y="474.00" width="1.50" height="8.00" fill="#000" stroke="none" stroke-width="1" shape-rendering="crispEdges"/>
<rect x="10.50" y="471.50" width="49.00" height="10.00" fill="#f2f2f2" stroke="#000" stroke-width="1" shape-rendering="crispEdges"/>
<text x="33.50" y="479.50" font-size="8.85" text-anchor="middle" font-weight="bold" fill="#000">Total Fit</text>
<text x="0.00" y="0.00" font-size="12" text-anchor="end" font-weight="bold" fill="#000" transform="translate(16.6,491.2) rotate(-90)">dN/dt (GeV<tspan font-size="62%" dy="-5">-2</tspan><tspan dy="5">)</tspan></text>
<text x="332.60" y="684.50" font-size="12.4" text-anchor="end" font-weight="bold" fill="#000">t(GeV<tspan font-size="62%" dy="-5">2</tspan><tspan dy="5">)</tspan></text>
<rect x="233.00" y="558.00" width="131.00" height="1.50" fill="#000" stroke="none" stroke-width="1" shape-rendering="crispEdges"/>
<rect x="362.00" y="473.00" width="1.50" height="87.00" fill="#000" stroke="none" stroke-width="1" shape-rendering="crispEdges"/>
<rect x="231.50" y="471.50" width="131.00" height="87.00" fill="#f2f2f2" stroke="#000" stroke-width="1" shape-rendering="crispEdges"/>
<path d="M231 482.5H362" stroke="#000" stroke-width="1" fill="none" shape-rendering="crispEdges"/>
<text x="295.60" y="480.80" font-size="10.4" text-anchor="middle" font-weight="bold" fill="#000">tcorr</text>
<text x="238.30" y="492.80" font-size="10.8" text-anchor="start" font-weight="bold" fill="#000">Entries</text>
<text x="354.80" y="492.80" font-size="10.8" text-anchor="end" font-weight="bold" fill="#000">1970</text>
<text x="238.30" y="505.70" font-size="10.8" text-anchor="start" font-weight="bold" fill="#000"><tspan font-family="Liberation Serif,serif" font-style="italic" font-weight="normal" font-size="105%">χ</tspan><tspan font-size="65%" dy="-3.4" dx="0.6">2</tspan><tspan dy="3.4" dx="0.5"> / ndf</tspan></text>
<text x="354.80" y="505.70" font-size="10.8" text-anchor="end" font-weight="bold" fill="#000">81.08 / 47</text>
<text x="238.30" y="517.60" font-size="10.8" text-anchor="start" font-weight="bold" fill="#000">Prob</text>
<text x="354.80" y="517.60" font-size="10.8" text-anchor="end" font-weight="bold" fill="#000">0.001476</text>
<text x="238.30" y="530.50" font-size="10.8" text-anchor="start" font-weight="bold" fill="#000">p0</text>
<text x="354.80" y="530.50" font-size="10.8" text-anchor="end" font-weight="bold" fill="#000">9756<tspan font-weight="normal" fill="#333"> ± </tspan>332.8</text>
<text x="238.30" y="542.80" font-size="10.8" text-anchor="start" font-weight="bold" fill="#000">p1</text>
<text x="354.80" y="542.80" font-size="10.8" text-anchor="end" font-weight="bold" fill="#000">343.9<tspan font-weight="normal" fill="#333"> ± </tspan>9.2</text>
<text x="238.30" y="555.60" font-size="10.8" text-anchor="start" font-weight="bold" fill="#000">p2</text>
<text x="354.80" y="555.60" font-size="10.8" text-anchor="end" font-weight="bold" fill="#000">1.037<tspan font-weight="normal" fill="#333"> ± </tspan>0.207</text>
</g>
</svg>
</body></html>
